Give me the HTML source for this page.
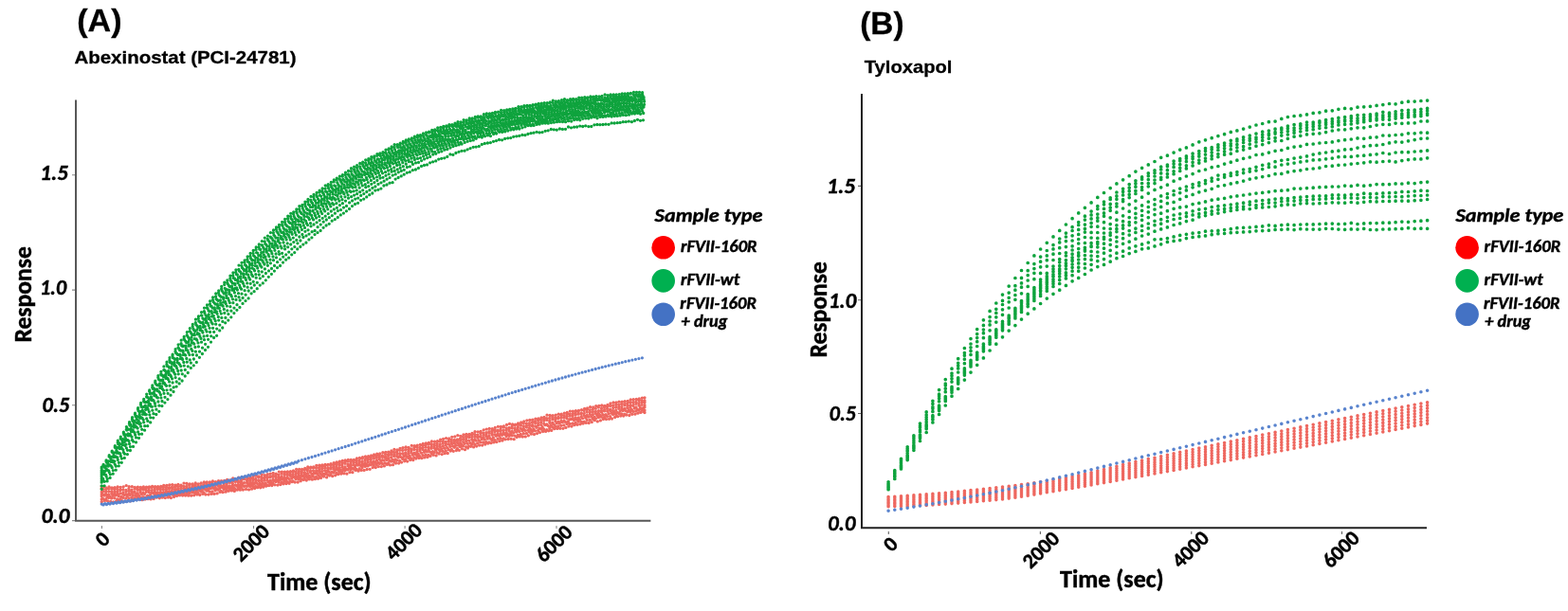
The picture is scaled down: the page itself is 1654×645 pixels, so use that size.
<!DOCTYPE html>
<html><head><meta charset="utf-8"><title>Figure</title>
<style>
html,body{margin:0;padding:0;background:#fff;}
svg{display:block;}
.t{font-family:"Liberation Sans",Arial,sans-serif;font-weight:700;fill:#000;stroke:#000;stroke-width:0.3px;}
.c{font-family:Carlito,Calibri,"Liberation Sans",sans-serif;font-weight:700;fill:#000;stroke:#000;stroke-width:0.45px;}
.ci{font-family:Carlito,Calibri,"Liberation Sans",sans-serif;font-weight:700;font-style:italic;fill:#000;stroke:#000;stroke-width:0.45px;}
</style></head>
<body>
<svg width="1654" height="645" viewBox="0 0 1654 645">
<rect width="1654" height="645" fill="#fff"/>
<g fill="none">
<path d="M80 105.5V550.8M79 549.8H686.4" stroke="#575757" stroke-width="2"/>
<path d="M76 184.7H79M76 306.1H79M76 427.8H79M76 549.6H79M107.4 555V558M267.5 555V558M427.1 555V558M587 555V558" stroke="#888" stroke-width="1.1"/>
<path d="M909 99V558.3M908 557.3H1505" stroke="#222" stroke-width="2"/>
<path d="M905 196.4H908M905 316.7H908M905 436.5H908M937.3 561V564M1097.4 561V564M1256.8 561V564M1415.5 561V564" stroke="#666" stroke-width="1.1"/>
</g>
<circle cx="699.7" cy="261.3" r="12.3" fill="#FF0000"/>
<circle cx="699.7" cy="296.4" r="12.3" fill="#00B050"/>
<circle cx="699.7" cy="331.8" r="12.3" fill="#4472C4"/>
<circle cx="1547.6" cy="261.3" r="12.3" fill="#FF0000"/>
<circle cx="1547.6" cy="296.4" r="12.3" fill="#00B050"/>
<circle cx="1547.6" cy="331.8" r="12.3" fill="#4472C4"/>
<path d="M107.2 513.6h0M108.9 513.8h0M111.9 514.9h0M115 513.9h0M118 514.8h0M121 514.6h0M124.1 513.9h0M127.1 514.3h0M130.2 513.8h0M133.2 512.6h0M136.2 513.7h0M139.3 513.7h0M142.3 514.4h0M145.4 514.2h0M148.4 514.3h0M151.4 514h0M154.5 514.1h0M157.5 513.8h0M160.6 513.4h0M163.6 513.7h0M166.6 513.7h0M169.7 513.5h0M172.7 512.5h0M175.8 512.5h0M178.8 511.8h0M181.8 511.6h0M184.9 512.1h0M187.9 511.4h0M191 512.2h0M194 510.1h0M197 510.4h0M200.1 510.9h0M203.1 511h0M206.2 510h0M209.2 510.8h0M212.2 510h0M215.3 509h0M218.3 509h0M221.4 509h0M224.4 507.9h0M227.4 508.6h0M230.5 507.6h0M233.5 507.6h0M236.6 507.4h0M239.6 506.4h0M242.6 506.8h0M245.7 505h0M248.7 505.8h0M251.8 504.1h0M254.8 505.2h0M257.8 504h0M260.9 504.5h0M263.9 504.1h0M267 503h0M270 502.3h0M273 502.8h0M276.1 501.1h0M279.1 501.6h0M282.2 500.7h0M285.2 500.1h0M288.2 499.5h0M291.3 500.2h0M294.3 498.1h0M297.4 498.1h0M300.4 498.1h0M303.4 497.8h0M306.5 497.7h0M309.5 497h0M312.6 495.5h0M315.6 495.4h0M318.6 495.3h0M321.7 494.4h0M324.7 492.9h0M327.8 493.2h0M330.8 492.8h0M333.8 491.3h0M336.9 491.2h0M339.9 490.8h0M343 490.5h0M346 490.4h0M349 489.7h0M352.1 488.7h0M355.1 488h0M358.2 487.1h0M361.2 486.4h0M364.2 486h0M367.3 485.4h0M370.3 485.4h0M373.4 485.3h0M376.4 483.9h0M379.4 483.5h0M382.5 482.7h0M385.5 481.9h0M388.6 481.7h0M391.6 481h0M394.6 479.9h0M397.7 479.2h0M400.7 478.9h0M403.8 477.7h0M406.8 477.4h0M409.8 477.1h0M412.9 475.9h0M415.9 474.4h0M419 475h0M422 473.4h0M425 472.6h0M428.1 471.9h0M431.1 472.4h0M434.2 470.3h0M437.2 470.6h0M440.2 470.1h0M443.3 469.4h0M446.3 468.3h0M449.4 467.9h0M452.4 467.3h0M455.4 465.9h0M458.5 466.2h0M461.5 465.7h0M464.6 464.1h0M467.6 463.5h0M470.6 462.6h0M473.7 463h0M476.7 461.3h0M479.8 460.9h0M482.8 459.6h0M485.8 460.3h0M488.9 458.9h0M491.9 458.5h0M495 458.4h0M498 457.3h0M501 455.7h0M504.1 455.8h0M507.1 455.3h0M510.2 453.8h0M513.2 453.1h0M516.2 452.4h0M519.3 452.6h0M522.3 451.5h0M525.4 450.3h0M528.4 450.5h0M531.4 449.8h0M534.5 448.4h0M537.5 447.4h0M540.6 448h0M543.6 448.1h0M546.6 446.8h0M549.7 445.9h0M552.7 444.9h0M555.8 443.8h0M558.8 443.5h0M561.8 443.1h0M564.9 442.1h0M567.9 442h0M571 440.9h0M574 440.5h0M577 438.2h0M580.1 438.5h0M583.1 438.7h0M586.2 438.1h0M589.2 437.2h0M592.2 437.2h0M595.3 436.1h0M598.3 435.5h0M601.4 434.1h0M604.4 434.1h0M607.4 433.6h0M610.5 433.3h0M613.5 432.6h0M616.6 431.5h0M619.6 430.9h0M622.6 429.7h0M625.7 430h0M628.7 428.6h0M631.8 428.4h0M634.8 427.9h0M637.8 428.3h0M640.9 427.4h0M643.9 425.8h0M647 425h0M650 425h0M653 424.2h0M656.1 424.2h0M659.1 423.7h0M662.2 423.3h0M665.2 421.9h0M668.2 421.7h0M671.3 421.5h0M674.3 421h0M677.4 420.1h0M680 419.8h0M107.2 515.7h0M108.5 516.4h0M111.6 516.6h0M114.6 515.9h0M117.7 516.1h0M120.7 516.6h0M123.7 516.3h0M126.8 517h0M129.8 516.8h0M132.9 517.5h0M135.9 515.8h0M138.9 517.2h0M142 515.9h0M145 516.5h0M148.1 516.5h0M151.1 516h0M154.1 515.6h0M157.2 515.3h0M160.2 514.6h0M163.3 515.1h0M166.3 514.7h0M169.3 515.3h0M172.4 514.4h0M175.4 514.5h0M178.5 514.6h0M181.5 514.2h0M184.5 514h0M187.6 513.6h0M190.6 513.3h0M193.7 513.5h0M196.7 513.4h0M199.7 512.4h0M202.8 513.3h0M205.8 512.5h0M208.9 511.2h0M211.9 513h0M214.9 511.7h0M218 510.7h0M221 511.5h0M224.1 509.1h0M227.1 511.3h0M230.1 509h0M233.2 508.6h0M236.2 508.6h0M239.3 508.8h0M242.3 508.1h0M245.3 508.4h0M248.4 507.2h0M251.4 507.7h0M254.5 506.9h0M257.5 505.9h0M260.5 506.5h0M263.6 505.7h0M266.6 505h0M269.7 505.3h0M272.7 503.7h0M275.7 503.6h0M278.8 504.1h0M281.8 502.9h0M284.9 502.8h0M287.9 502.2h0M290.9 501.4h0M294 501.3h0M297 500h0M300.1 500.3h0M303.1 499h0M306.1 499h0M309.2 498h0M312.2 498.2h0M315.3 497.6h0M318.3 497.4h0M321.3 496.1h0M324.4 495.3h0M327.4 494.2h0M330.5 494.1h0M333.5 494h0M336.5 493.7h0M339.6 492.8h0M342.6 492.5h0M345.7 491.2h0M348.7 490.8h0M351.7 491.1h0M354.8 490.5h0M357.8 488.9h0M360.9 488.8h0M363.9 488.5h0M366.9 487.2h0M370 487.3h0M373 486.7h0M376.1 486.1h0M379.1 486.2h0M382.1 484.2h0M385.2 484.6h0M388.2 483.7h0M391.3 483.1h0M394.3 481.8h0M397.3 481.5h0M400.4 480.9h0M403.4 481h0M406.5 479.6h0M409.5 479.7h0M412.5 478.1h0M415.6 477.5h0M418.6 477h0M421.7 475.3h0M424.7 475.4h0M427.7 474.7h0M430.8 474.3h0M433.8 473.8h0M436.9 472.5h0M439.9 471.8h0M442.9 472.3h0M446 470.5h0M449 470.1h0M452.1 469.2h0M455.1 468.8h0M458.1 468.9h0M461.2 468.2h0M464.2 466.1h0M467.3 466.2h0M470.3 466.3h0M473.3 464.7h0M476.4 464.4h0M479.4 464.5h0M482.5 464h0M485.5 463h0M488.5 461.4h0M491.6 460.9h0M494.6 460.3h0M497.7 459.3h0M500.7 458.5h0M503.7 459.1h0M506.8 457.6h0M509.8 457.1h0M512.9 456.7h0M515.9 455.7h0M518.9 454.8h0M522 454.2h0M525 454.1h0M528.1 452.9h0M531.1 451h0M534.1 451.8h0M537.2 451.5h0M540.2 449.9h0M543.3 449h0M546.3 448.4h0M549.3 448.5h0M552.4 446.8h0M555.4 447.1h0M558.5 446.6h0M561.5 445.7h0M564.5 444.8h0M567.6 443.7h0M570.6 443.1h0M573.7 442.8h0M576.7 441.7h0M579.7 441.4h0M582.8 440.4h0M585.8 440.9h0M588.9 440.3h0M591.9 438.5h0M594.9 439h0M598 437.8h0M601 437.1h0M604.1 436.7h0M607.1 436h0M610.1 434.5h0M613.2 435.8h0M616.2 433.6h0M619.3 432.3h0M622.3 432.8h0M625.3 432.2h0M628.4 431.3h0M631.4 430.1h0M634.5 431h0M637.5 429.8h0M640.5 429.4h0M643.6 428.5h0M646.6 428.1h0M649.7 427.3h0M652.7 427.3h0M655.7 426.5h0M658.8 426.3h0M661.8 425.8h0M664.9 425h0M667.9 424.5h0M670.9 424.4h0M674 422.6h0M677 422.9h0M680 423h0M107.2 519.3h0M108.6 518.7h0M111.6 519h0M114.7 518.9h0M117.7 518.9h0M120.8 519.2h0M123.8 518.9h0M126.8 517.8h0M129.9 519.9h0M132.9 518.7h0M136 518.4h0M139 519h0M142 519.1h0M145.1 517.3h0M148.1 518.4h0M151.2 517h0M154.2 517.6h0M157.2 517.7h0M160.3 517.3h0M163.3 517.1h0M166.4 516.6h0M169.4 516.8h0M172.4 516.8h0M175.5 516.5h0M178.5 515.7h0M181.6 515.8h0M184.6 516.4h0M187.6 516h0M190.7 515.3h0M193.7 515.5h0M196.8 515.1h0M199.8 515.2h0M202.8 514.6h0M205.9 514h0M208.9 513.4h0M212 513.6h0M215 512.3h0M218 513h0M221.1 511.1h0M224.1 511.9h0M227.2 511.8h0M230.2 512h0M233.2 512.7h0M236.3 511.1h0M239.3 510.6h0M242.4 509.4h0M245.4 510.6h0M248.4 508.6h0M251.5 509.3h0M254.5 508.4h0M257.6 509.6h0M260.6 507.9h0M263.6 507.7h0M266.7 506.8h0M269.7 506.6h0M272.8 506.8h0M275.8 505.3h0M278.8 505h0M281.9 504.6h0M284.9 503.9h0M288 503.4h0M291 503.5h0M294 503.7h0M297.1 503.2h0M300.1 501.4h0M303.2 501.2h0M306.2 501h0M309.2 500.7h0M312.3 500h0M315.3 499.5h0M318.4 499.1h0M321.4 498.8h0M324.4 496.8h0M327.5 497.2h0M330.5 497.1h0M333.6 496.9h0M336.6 496h0M339.6 494.8h0M342.7 494.2h0M345.7 494.1h0M348.8 493.4h0M351.8 493h0M354.8 492.8h0M357.9 491h0M360.9 490.9h0M364 489.3h0M367 490.3h0M370 489.4h0M373.1 488.3h0M376.1 488.2h0M379.2 488.1h0M382.2 487.3h0M385.2 486.2h0M388.3 485.4h0M391.3 485h0M394.4 483.9h0M397.4 483.2h0M400.4 482.9h0M403.5 482.4h0M406.5 481.9h0M409.6 480.9h0M412.6 480.1h0M415.6 479.9h0M418.7 479h0M421.7 478.7h0M424.8 478.6h0M427.8 477.8h0M430.8 476.3h0M433.9 475.7h0M436.9 474.5h0M440 474.6h0M443 473.6h0M446 472.7h0M449.1 472.2h0M452.1 472.3h0M455.2 471.4h0M458.2 470.6h0M461.2 470.4h0M464.3 469.1h0M467.3 468.1h0M470.4 468.2h0M473.4 466.3h0M476.4 466.7h0M479.5 466h0M482.5 465.4h0M485.6 464.9h0M488.6 463.7h0M491.6 463.2h0M494.7 461.7h0M497.7 461.6h0M500.8 460.9h0M503.8 460.6h0M506.8 460.5h0M509.9 459.2h0M512.9 458.9h0M516 457.3h0M519 457.1h0M522 455.6h0M525.1 455.4h0M528.1 454.7h0M531.2 454.3h0M534.2 453.7h0M537.2 452.8h0M540.3 452h0M543.3 452.1h0M546.4 450.9h0M549.4 449.2h0M552.4 449.8h0M555.5 449.3h0M558.5 448.8h0M561.6 448.5h0M564.6 446.6h0M567.6 446.5h0M570.7 445.7h0M573.7 444.3h0M576.8 443.4h0M579.8 444.4h0M582.8 442.8h0M585.9 442.4h0M588.9 441.8h0M592 441.2h0M595 440.8h0M598 439.4h0M601.1 439.2h0M604.1 438.7h0M607.2 437.7h0M610.2 437.2h0M613.2 436.8h0M616.3 436.3h0M619.3 435h0M622.4 435h0M625.4 434.7h0M628.4 434.5h0M631.5 433.7h0M634.5 433.4h0M637.6 432.3h0M640.6 431.6h0M643.6 432.2h0M646.7 430.6h0M649.7 429.8h0M652.8 429.4h0M655.8 429.4h0M658.8 427.8h0M661.9 428.2h0M664.9 427.9h0M668 427.3h0M671 426.3h0M674 425.3h0M677.1 424.7h0M680 424.7h0M107.2 521.7h0M108.6 521.8h0M111.6 521.5h0M114.6 522.2h0M117.7 521.3h0M120.7 521h0M123.8 521.3h0M126.8 520.9h0M129.8 521.5h0M132.9 521.7h0M135.9 521.2h0M139 520.2h0M142 520.1h0M145 520.7h0M148.1 519.8h0M151.1 520.4h0M154.2 519.3h0M157.2 519.6h0M160.2 519.9h0M163.3 519.1h0M166.3 519.7h0M169.4 519.5h0M172.4 519.6h0M175.4 518.5h0M178.5 518.4h0M181.5 518.2h0M184.6 518.1h0M187.6 516.9h0M190.6 517.6h0M193.7 517.5h0M196.7 516.3h0M199.8 516h0M202.8 516.2h0M205.8 517h0M208.9 516.2h0M211.9 515.3h0M215 515.3h0M218 514.2h0M221 515.3h0M224.1 514h0M227.1 514.3h0M230.2 513.1h0M233.2 513.4h0M236.2 512.5h0M239.3 513h0M242.3 513h0M245.4 512.5h0M248.4 511.8h0M251.4 511.6h0M254.5 510.2h0M257.5 509.7h0M260.6 509.8h0M263.6 510h0M266.6 509.2h0M269.7 509h0M272.7 507.5h0M275.8 507.7h0M278.8 507.1h0M281.8 507.1h0M284.9 507.4h0M287.9 506.4h0M291 506.1h0M294 504.9h0M297 504.5h0M300.1 504.5h0M303.1 503.8h0M306.2 502.3h0M309.2 503h0M312.2 502.5h0M315.3 501.7h0M318.3 501.4h0M321.4 500.7h0M324.4 499.7h0M327.4 498.6h0M330.5 499.8h0M333.5 498.4h0M336.6 497.8h0M339.6 497.3h0M342.6 496.8h0M345.7 496.3h0M348.7 495.1h0M351.8 495.2h0M354.8 494.5h0M357.8 493.8h0M360.9 493.2h0M363.9 492.8h0M367 491.6h0M370 491.5h0M373 490.8h0M376.1 490.3h0M379.1 490.2h0M382.2 489.5h0M385.2 489h0M388.2 487.7h0M391.3 487.6h0M394.3 487.1h0M397.4 485.9h0M400.4 485.1h0M403.4 485.6h0M406.5 483.3h0M409.5 483.4h0M412.6 482.9h0M415.6 481.6h0M418.6 481.5h0M421.7 481.2h0M424.7 479.2h0M427.8 480.1h0M430.8 479h0M433.8 477.9h0M436.9 478.1h0M439.9 477h0M443 476.1h0M446 474.5h0M449 475.4h0M452.1 474.3h0M455.1 473.3h0M458.2 473h0M461.2 472.9h0M464.2 471.5h0M467.3 470.9h0M470.3 470.1h0M473.4 469.1h0M476.4 468.5h0M479.4 468.1h0M482.5 467.5h0M485.5 467.5h0M488.6 466.4h0M491.6 465.5h0M494.6 465.1h0M497.7 464.2h0M500.7 464h0M503.8 462.2h0M506.8 461.2h0M509.8 461.8h0M512.9 460.7h0M515.9 460.4h0M519 459h0M522 458.7h0M525 458.2h0M528.1 457.7h0M531.1 456.8h0M534.2 456.7h0M537.2 455.2h0M540.2 455.3h0M543.3 454h0M546.3 453.5h0M549.4 452.4h0M552.4 452.3h0M555.4 451.1h0M558.5 451.4h0M561.5 450h0M564.6 449.8h0M567.6 448.9h0M570.6 448.3h0M573.7 447.3h0M576.7 448h0M579.8 446.3h0M582.8 446.5h0M585.8 444.6h0M588.9 445.5h0M591.9 444.4h0M595 444.1h0M598 441.8h0M601 442.6h0M604.1 441.3h0M607.1 441h0M610.2 441h0M613.2 439.7h0M616.2 438.6h0M619.3 438.4h0M622.3 437.3h0M625.4 437.3h0M628.4 436.6h0M631.4 436.2h0M634.5 435.2h0M637.5 433.9h0M640.6 434.1h0M643.6 433.6h0M646.6 433.4h0M649.7 432.9h0M652.7 431.3h0M655.8 432h0M658.8 431.3h0M661.8 430.4h0M664.9 430h0M667.9 428.3h0M671 429.9h0M674 428h0M677 427.3h0M680 427.7h0M107.2 523.7h0M110 523h0M113 524.2h0M116.1 524.5h0M119.1 523.2h0M122.1 522.9h0M125.2 523.7h0M128.2 524.5h0M131.3 522.6h0M134.3 523.3h0M137.3 522.5h0M140.4 523h0M143.4 523h0M146.5 522.9h0M149.5 521.8h0M152.5 521.6h0M155.6 523.2h0M158.6 522.4h0M161.7 520.8h0M164.7 521.7h0M167.7 521.9h0M170.8 521h0M173.8 520.9h0M176.9 520.6h0M179.9 520.5h0M182.9 520.2h0M186 520h0M189 519.3h0M192.1 519.7h0M195.1 519.2h0M198.1 518.8h0M201.2 517.9h0M204.2 518.1h0M207.3 518h0M210.3 517.4h0M213.3 517.2h0M216.4 516.6h0M219.4 516.6h0M222.5 515.6h0M225.5 515.5h0M228.5 515.9h0M231.6 515.7h0M234.6 514.7h0M237.7 514.6h0M240.7 514.5h0M243.7 514.8h0M246.8 514.6h0M249.8 513.2h0M252.9 512.6h0M255.9 512.2h0M258.9 512.8h0M262 511.3h0M265 511.6h0M268.1 510.7h0M271.1 510.3h0M274.1 510.5h0M277.2 509.9h0M280.2 510.2h0M283.3 509.2h0M286.3 509.2h0M289.3 507.6h0M292.4 507.3h0M295.4 506.4h0M298.5 506.2h0M301.5 506.2h0M304.5 505.3h0M307.6 505.1h0M310.6 504.1h0M313.7 503.8h0M316.7 503.9h0M319.7 502.9h0M322.8 502.3h0M325.8 502h0M328.9 500.9h0M331.9 499.9h0M334.9 500.4h0M338 499.8h0M341 500.2h0M344.1 498.6h0M347.1 498.2h0M350.1 498.5h0M353.2 496.7h0M356.2 496h0M359.3 496.1h0M362.3 495.3h0M365.3 495h0M368.4 493.6h0M371.4 494.1h0M374.5 492.9h0M377.5 491.2h0M380.5 491.6h0M383.6 490.8h0M386.6 490.4h0M389.7 490.3h0M392.7 489.2h0M395.7 488.3h0M398.8 488.4h0M401.8 487.1h0M404.9 486.1h0M407.9 485.5h0M410.9 486.2h0M414 485.2h0M417 484.9h0M420.1 483h0M423.1 482.6h0M426.1 481.9h0M429.2 482h0M432.2 481.5h0M435.3 480.2h0M438.3 479.6h0M441.3 479.4h0M444.4 478.2h0M447.4 477.3h0M450.5 476.9h0M453.5 476.9h0M456.5 476.7h0M459.6 475.2h0M462.6 474.3h0M465.7 473.8h0M468.7 473.2h0M471.7 472.7h0M474.8 471.4h0M477.8 471.1h0M480.9 470.3h0M483.9 470.2h0M486.9 469.3h0M490 468.3h0M493 468.2h0M496.1 467.7h0M499.1 466.5h0M502.1 465.1h0M505.2 464.9h0M508.2 463.7h0M511.3 463.8h0M514.3 463.2h0M517.3 463h0M520.4 462h0M523.4 460.3h0M526.5 460.2h0M529.5 459.3h0M532.5 458.7h0M535.6 458.4h0M538.6 457.8h0M541.7 457h0M544.7 456.1h0M547.7 455.5h0M550.8 454.8h0M553.8 454.4h0M556.9 454.2h0M559.9 453.3h0M562.9 452.9h0M566 451.3h0M569 452.2h0M572.1 450.6h0M575.1 448.7h0M578.1 449.4h0M581.2 449.2h0M584.2 448h0M587.3 446.7h0M590.3 446.8h0M593.3 445.8h0M596.4 445.4h0M599.4 445h0M602.5 442.7h0M605.5 443.6h0M608.5 443.2h0M611.6 442.6h0M614.6 441.6h0M617.7 441h0M620.7 440.2h0M623.7 439.9h0M626.8 440.1h0M629.8 438.5h0M632.9 438.3h0M635.9 437.7h0M638.9 437.7h0M642 436.7h0M645 436.2h0M648.1 435.3h0M651.1 435.4h0M654.1 434.1h0M657.2 433.6h0M660.2 433.6h0M663.3 432.8h0M666.3 432.4h0M669.3 431h0M672.4 432.1h0M675.4 430.5h0M678.5 430.7h0M680 429.8h0M107.2 526.9h0M108.5 526.5h0M111.6 527h0M114.6 525.5h0M117.6 526h0M120.7 525.8h0M123.7 526.9h0M126.8 526.6h0M129.8 525.4h0M132.8 525.9h0M135.9 525.8h0M138.9 525.4h0M142 526h0M145 524.8h0M148 525h0M151.1 524.6h0M154.1 525h0M157.2 524.2h0M160.2 524.5h0M163.2 523.5h0M166.3 523.2h0M169.3 523h0M172.4 523h0M175.4 522.7h0M178.4 524h0M181.5 522h0M184.5 522.3h0M187.6 521.8h0M190.6 521.7h0M193.6 522h0M196.7 521.4h0M199.7 520.6h0M202.8 519.9h0M205.8 520.7h0M208.8 520.5h0M211.9 519.1h0M214.9 519.9h0M218 518.2h0M221 518.9h0M224 519h0M227.1 517.8h0M230.1 517.1h0M233.2 518.3h0M236.2 516.5h0M239.2 517h0M242.3 515.8h0M245.3 516.4h0M248.4 516.6h0M251.4 515.2h0M254.4 514.6h0M257.5 513.6h0M260.5 513.4h0M263.6 513.5h0M266.6 513.5h0M269.6 513.3h0M272.7 512.7h0M275.7 512.5h0M278.8 511.8h0M281.8 512.5h0M284.8 510.7h0M287.9 510.4h0M290.9 508.6h0M294 509.1h0M297 509.2h0M300 508.2h0M303.1 508.6h0M306.1 507.8h0M309.2 507.9h0M312.2 505.8h0M315.2 505.7h0M318.3 506.1h0M321.3 505h0M324.4 504h0M327.4 503.7h0M330.4 503.2h0M333.5 503.3h0M336.5 502.6h0M339.6 501.7h0M342.6 500.8h0M345.6 501.1h0M348.7 500.7h0M351.7 499h0M354.8 499.5h0M357.8 497.9h0M360.8 497.8h0M363.9 496.9h0M366.9 495.9h0M370 495.8h0M373 495.2h0M376 495.4h0M379.1 494.7h0M382.1 493.5h0M385.2 492.4h0M388.2 491.9h0M391.2 490.8h0M394.3 491.2h0M397.3 490.6h0M400.4 489.6h0M403.4 489.5h0M406.4 488.9h0M409.5 488.8h0M412.5 487.2h0M415.6 487.5h0M418.6 486.1h0M421.6 486.4h0M424.7 484.6h0M427.7 485h0M430.8 483.4h0M433.8 484h0M436.8 482.8h0M439.9 481.3h0M442.9 481.7h0M446 480.6h0M449 480.2h0M452 480.4h0M455.1 478.5h0M458.1 477.8h0M461.2 477.9h0M464.2 476.4h0M467.2 476.4h0M470.3 475.9h0M473.3 474.7h0M476.4 474.4h0M479.4 472.3h0M482.4 473.5h0M485.5 471.7h0M488.5 470.9h0M491.6 471.7h0M494.6 470.9h0M497.6 469.2h0M500.7 469h0M503.7 467.9h0M506.8 466.9h0M509.8 467h0M512.8 466.6h0M515.9 466.8h0M518.9 464.7h0M522 464.6h0M525 463.3h0M528 462.7h0M531.1 462.8h0M534.1 460.6h0M537.2 460.3h0M540.2 459.8h0M543.2 460.1h0M546.3 459.1h0M549.3 458.5h0M552.4 457.7h0M555.4 457.4h0M558.4 456h0M561.5 455.5h0M564.5 454.8h0M567.6 454.5h0M570.6 453h0M573.6 452.9h0M576.7 453.7h0M579.7 452h0M582.8 451.1h0M585.8 450h0M588.8 450h0M591.9 449.3h0M594.9 448.9h0M598 447.6h0M601 447.5h0M604 447h0M607.1 446.5h0M610.1 445.2h0M613.2 445.1h0M616.2 445.1h0M619.2 443.4h0M622.3 443.4h0M625.3 442.3h0M628.4 441.7h0M631.4 440.7h0M634.4 440.2h0M637.5 440.4h0M640.5 439.6h0M643.6 439.6h0M646.6 437.5h0M649.6 437.6h0M652.7 436.5h0M655.7 436.8h0M658.8 437.1h0M661.8 434.8h0M664.8 435h0M667.9 434.4h0M670.9 433.9h0M674 433.1h0M677 432.6h0M680 433.1h0M107.2 529.7h0M107.5 529.6h0M110.5 528.5h0M113.5 528.8h0M116.6 529.3h0M119.6 529.9h0M122.7 528.8h0M125.7 528.5h0M128.7 528.7h0M131.8 529.1h0M134.8 528.7h0M137.9 528.8h0M140.9 527.9h0M143.9 527.4h0M147 527.1h0M150 527.7h0M153.1 527h0M156.1 526.7h0M159.1 526.9h0M162.2 526.5h0M165.2 525.2h0M168.3 525.8h0M171.3 525.2h0M174.3 525.6h0M177.4 525.1h0M180.4 525.6h0M183.5 524.5h0M186.5 523.6h0M189.5 522.9h0M192.6 523.1h0M195.6 523.1h0M198.7 523.2h0M201.7 523.2h0M204.7 522.8h0M207.8 522.1h0M210.8 522.5h0M213.9 521.4h0M216.9 522h0M219.9 522.1h0M223 521.4h0M226 521.4h0M229.1 520.9h0M232.1 519.4h0M235.1 519.7h0M238.2 519.2h0M241.2 518.3h0M244.3 517.9h0M247.3 518.4h0M250.3 517.2h0M253.4 517.2h0M256.4 517h0M259.5 516.4h0M262.5 516.9h0M265.5 516.2h0M268.6 515.5h0M271.6 514.7h0M274.7 514.8h0M277.7 514.2h0M280.7 513.2h0M283.8 512.6h0M286.8 512.5h0M289.9 511.8h0M292.9 512.1h0M295.9 511.6h0M299 510.8h0M302 510.6h0M305.1 510.3h0M308.1 508.7h0M311.1 509.1h0M314.2 509h0M317.2 507.8h0M320.3 506.6h0M323.3 507h0M326.3 505.9h0M329.4 506.2h0M332.4 505.7h0M335.5 505.3h0M338.5 504.5h0M341.5 503h0M344.6 503.9h0M347.6 502h0M350.7 502.7h0M353.7 501.8h0M356.7 500.7h0M359.8 500.2h0M362.8 499.8h0M365.9 500.2h0M368.9 498.6h0M371.9 498.7h0M375 496.4h0M378 497.2h0M381.1 496.4h0M384.1 496.4h0M387.1 495.5h0M390.2 495.3h0M393.2 493.6h0M396.3 493.6h0M399.3 492.6h0M402.3 492.6h0M405.4 491.9h0M408.4 490.4h0M411.5 490.9h0M414.5 490.7h0M417.5 489h0M420.6 489.1h0M423.6 488.1h0M426.7 486.8h0M429.7 487.1h0M432.7 485.6h0M435.8 485.7h0M438.8 484h0M441.9 483.5h0M444.9 483.7h0M447.9 482.9h0M451 482.6h0M454 481.4h0M457.1 480.3h0M460.1 480.9h0M463.1 479.1h0M466.2 479.6h0M469.2 478.7h0M472.3 478.5h0M475.3 476h0M478.3 476.3h0M481.4 475.5h0M484.4 475.3h0M487.5 473.8h0M490.5 474.7h0M493.5 473h0M496.6 471.3h0M499.6 471.9h0M502.7 471.1h0M505.7 470.1h0M508.7 470.1h0M511.8 469.1h0M514.8 468h0M517.9 467.7h0M520.9 466.9h0M523.9 466.6h0M527 465.6h0M530 465.1h0M533.1 463.8h0M536.1 463.5h0M539.1 463.3h0M542.2 463.7h0M545.2 461.5h0M548.3 460.9h0M551.3 461h0M554.3 460.9h0M557.4 459.8h0M560.4 458.2h0M563.5 458.5h0M566.5 457.6h0M569.5 456.6h0M572.6 455.5h0M575.6 455.4h0M578.7 454.8h0M581.7 454.4h0M584.7 452.7h0M587.8 452.4h0M590.8 452.3h0M593.9 452.3h0M596.9 451.4h0M599.9 450.1h0M603 450.1h0M606 448.7h0M609.1 448.3h0M612.1 447.8h0M615.1 447h0M618.2 446.4h0M621.2 446.5h0M624.3 445.6h0M627.3 443.7h0M630.3 444.9h0M633.4 443.9h0M636.4 442.6h0M639.5 442.6h0M642.5 442.3h0M645.5 442h0M648.6 440.5h0M651.6 439.7h0M654.7 439h0M657.7 439.1h0M660.7 438h0M663.8 438.5h0M666.8 437.3h0M669.9 437.2h0M672.9 436.2h0M675.9 435.4h0M679 434.7h0M680 435.5h0" stroke="#EE675F" stroke-width="3.3" stroke-linecap="round" fill="none"/>
<path d="M107.2 493.1h0M109.1 490.3h0M112.1 485.8h0M115.2 480.7h0M118.2 476.1h0M121.3 470.7h0M124.3 465.2h0M127.3 461.1h0M130.4 456.2h0M133.4 450.6h0M136.5 445.6h0M139.5 440.7h0M142.5 436.2h0M145.6 430.7h0M148.6 425.4h0M151.7 421.4h0M154.7 416.1h0M157.7 411.9h0M160.8 406.8h0M163.8 402.2h0M166.9 396.7h0M169.9 392.4h0M172.9 386.9h0M176 382.2h0M179 377.7h0M182.1 374.2h0M185.1 368.6h0M188.1 363.8h0M191.2 359.2h0M194.2 355.5h0M197.3 350.6h0M200.3 346.6h0M203.3 342.3h0M206.4 337.2h0M209.4 334h0M212.5 329.6h0M215.5 325.1h0M218.5 321.9h0M221.6 317.8h0M224.6 313.8h0M227.7 310h0M230.7 306.8h0M233.7 302.5h0M236.8 298.2h0M239.8 295.9h0M242.9 291.2h0M245.9 288h0M248.9 284.8h0M252 280.1h0M255 277.3h0M258.1 274.9h0M261.1 270.9h0M264.1 267.4h0M267.2 264.5h0M270.2 260.9h0M273.3 258h0M276.3 254.6h0M279.3 251.1h0M282.4 249.1h0M285.4 245.6h0M288.5 243h0M291.5 239.8h0M294.5 237.5h0M297.6 234.4h0M300.6 231.4h0M303.7 228.1h0M306.7 225.3h0M309.7 223.8h0M312.8 220.9h0M315.8 217.6h0M318.9 216.4h0M321.9 213.1h0M324.9 210.5h0M328 207.4h0M331 205.3h0M334.1 203.5h0M337.1 201.2h0M340.1 198.9h0M343.2 195.8h0M346.2 194.6h0M349.3 192.4h0M352.3 190h0M355.3 188.1h0M358.4 186.1h0M361.4 184.6h0M364.5 182.1h0M367.5 180.4h0M370.5 177.7h0M373.6 176.1h0M376.6 174.6h0M379.7 172.5h0M382.7 171.2h0M385.7 168.8h0M388.8 167.6h0M391.8 165.7h0M394.9 165h0M397.9 162.6h0M400.9 162h0M404 160.6h0M407 158.2h0M410.1 157h0M413.1 155h0M416.1 152.6h0M419.2 152.7h0M422.2 151.2h0M425.3 149.5h0M428.3 148h0M431.3 147h0M434.4 145.8h0M437.4 144.1h0M440.5 143h0M443.5 142.6h0M446.5 141h0M449.6 139.8h0M452.6 139.2h0M455.7 137.5h0M458.7 137h0M461.7 135h0M464.8 134.4h0M467.8 133.4h0M470.9 132.8h0M473.9 131.6h0M476.9 131.6h0M480 130.2h0M483 128.6h0M486.1 128.9h0M489.1 126.6h0M492.1 127h0M495.2 125h0M498.2 124.9h0M501.3 123.3h0M504.3 122.8h0M507.3 122.9h0M510.4 120.7h0M513.4 119.9h0M516.5 119.9h0M519.5 119.3h0M522.5 118.5h0M525.6 118.2h0M528.6 116.5h0M531.7 116.6h0M534.7 115.8h0M537.7 115.5h0M540.8 114.8h0M543.8 114.5h0M546.9 112.6h0M549.9 112.7h0M552.9 111.6h0M556 111.5h0M559 111.3h0M562.1 110.6h0M565.1 110.2h0M568.1 109.4h0M571.2 109.1h0M574.2 108.6h0M577.3 108.6h0M580.3 107.9h0M583.3 106.2h0M586.4 106.9h0M589.4 106.7h0M592.5 105.6h0M595.5 104.7h0M598.5 105.7h0M601.6 104.7h0M604.6 104.5h0M607.7 104.7h0M610.7 103.1h0M613.7 103.1h0M616.8 102.7h0M619.8 102.8h0M622.9 101.9h0M625.9 102.1h0M628.9 101.6h0M632 101.8h0M635 101.5h0M638.1 100h0M641.1 100.6h0M644.1 100h0M647.2 99.9h0M650.2 99.8h0M653.3 99.6h0M656.3 98.8h0M659.3 99h0M662.4 98.7h0M665.4 98.3h0M668.5 97.5h0M671.5 97.5h0M674.5 97.4h0M677.6 97.7h0M107.2 494.2h0M109 491.3h0M112 487h0M115.1 481.9h0M118.1 476.9h0M121.2 472.1h0M124.2 467.2h0M127.2 463h0M130.3 457.1h0M133.3 453.4h0M136.4 447.4h0M139.4 442.6h0M142.4 437.4h0M145.5 432h0M148.5 427.2h0M151.6 423.6h0M154.6 419h0M157.6 412.9h0M160.7 409h0M163.7 403.8h0M166.8 398.6h0M169.8 395.1h0M172.8 390.6h0M175.9 384.7h0M178.9 380.2h0M182 375.7h0M185 371h0M188 366.9h0M191.1 362.7h0M194.1 357.6h0M197.2 353.7h0M200.2 349.7h0M203.2 344.5h0M206.3 340.6h0M209.3 336.3h0M212.4 332.9h0M215.4 328.7h0M218.4 324.9h0M221.5 321h0M224.5 316.6h0M227.6 313.2h0M230.6 308.9h0M233.6 305.1h0M236.7 300.6h0M239.7 298.6h0M242.8 293.9h0M245.8 290.9h0M248.8 287.3h0M251.9 284.5h0M254.9 280.6h0M258 276.7h0M261 273.7h0M264 270.4h0M267.1 267.3h0M270.1 263.4h0M273.2 260.8h0M276.2 258.7h0M279.2 254.9h0M282.3 252.5h0M285.3 250.1h0M288.4 245.8h0M291.4 241.9h0M294.4 239.7h0M297.5 237.4h0M300.5 234.5h0M303.6 230.7h0M306.6 228.5h0M309.6 225.9h0M312.7 223.3h0M315.7 220.6h0M318.8 217.7h0M321.8 215.3h0M324.8 213h0M327.9 211.2h0M330.9 208h0M334 206.3h0M337 203.1h0M340 202h0M343.1 199.2h0M346.1 197h0M349.2 195.5h0M352.2 191.9h0M355.2 189.9h0M358.3 188.8h0M361.3 186.2h0M364.4 184.5h0M367.4 184h0M370.4 180.7h0M373.5 179h0M376.5 177.1h0M379.6 175.8h0M382.6 173.6h0M385.6 171.9h0M388.7 169.5h0M391.7 168.2h0M394.8 166.7h0M397.8 164.3h0M400.8 163.7h0M403.9 162.1h0M406.9 161.2h0M410 158.1h0M413 156.9h0M416 155.5h0M419.1 154.2h0M422.1 153h0M425.2 151.6h0M428.2 150.5h0M431.2 149.2h0M434.3 147.8h0M437.3 145.9h0M440.4 145.1h0M443.4 144.2h0M446.4 143.3h0M449.5 142.2h0M452.5 140h0M455.6 139.4h0M458.6 138.5h0M461.6 137.7h0M464.7 137h0M467.7 135.5h0M470.8 134.1h0M473.8 133.7h0M476.8 132.7h0M479.9 131.8h0M482.9 130.7h0M486 130.6h0M489 129.1h0M492 128.5h0M495.1 126.8h0M498.1 126.8h0M501.2 125.3h0M504.2 124.1h0M507.2 124.2h0M510.3 123.5h0M513.3 122.4h0M516.4 121.7h0M519.4 121.5h0M522.4 120.1h0M525.5 118.6h0M528.5 119h0M531.6 118.3h0M534.6 118.1h0M537.6 116.8h0M540.7 116.9h0M543.7 116.2h0M546.8 114.5h0M549.8 114.9h0M552.8 113.4h0M555.9 112.6h0M558.9 112.7h0M562 112h0M565 110.8h0M568 111.3h0M571.1 111h0M574.1 110.9h0M577.2 109.8h0M580.2 108.6h0M583.2 108.4h0M586.3 108.9h0M589.3 108.4h0M592.4 107.8h0M595.4 107h0M598.4 106.9h0M601.5 106.3h0M604.5 105.9h0M607.6 105.8h0M610.6 105.3h0M613.6 104.9h0M616.7 104.7h0M619.7 104.1h0M622.8 103.1h0M625.8 103.4h0M628.8 103.4h0M631.9 103.9h0M634.9 102.6h0M638 103.5h0M641 102.9h0M644 101.5h0M647.1 101.3h0M650.1 101.5h0M653.2 102h0M656.2 101.1h0M659.2 101h0M662.3 100.1h0M665.3 99h0M668.4 99.8h0M671.4 100h0M674.4 100h0M677.5 99.2h0M107.2 496.6h0M109.5 492.3h0M112.6 488.2h0M115.6 482.3h0M118.6 477.6h0M121.7 472.8h0M124.7 468.7h0M127.8 463.4h0M130.8 458.8h0M133.8 454h0M136.9 449h0M139.9 444.5h0M143 439.7h0M146 433.7h0M149 429.3h0M152.1 424.2h0M155.1 419h0M158.2 415.5h0M161.2 410.3h0M164.2 405.1h0M167.3 400.3h0M170.3 396h0M173.4 390.6h0M176.4 386.4h0M179.4 382.5h0M182.5 377.7h0M185.5 372.4h0M188.6 368h0M191.6 364.7h0M194.6 358.8h0M197.7 354.8h0M200.7 350.2h0M203.8 346.9h0M206.8 342.7h0M209.8 339h0M212.9 333.2h0M215.9 330.5h0M219 325.7h0M222 322.9h0M225 318.6h0M228.1 315.7h0M231.1 311.3h0M234.2 306.9h0M237.2 304.3h0M240.2 299.5h0M243.3 296.2h0M246.3 293.4h0M249.4 289.6h0M252.4 286.1h0M255.4 282.5h0M258.5 279.4h0M261.5 276.2h0M264.6 272.7h0M267.6 269.8h0M270.6 266.7h0M273.7 262.9h0M276.7 259.3h0M279.8 257.4h0M282.8 253.6h0M285.8 251h0M288.9 248.2h0M291.9 244.3h0M295 242.1h0M298 238.3h0M301 236.6h0M304.1 233.3h0M307.1 230.8h0M310.2 228.4h0M313.2 225.1h0M316.2 222.9h0M319.3 220h0M322.3 217.8h0M325.4 215.8h0M328.4 212.9h0M331.4 210.5h0M334.5 207.7h0M337.5 206.3h0M340.6 203.6h0M343.6 202.2h0M346.6 198.8h0M349.7 197.5h0M352.7 195.8h0M355.8 192.8h0M358.8 190.2h0M361.8 189.5h0M364.9 187.3h0M367.9 185.2h0M371 183.5h0M374 180.9h0M377 179.6h0M380.1 177.7h0M383.1 175.3h0M386.2 174.2h0M389.2 171.9h0M392.2 170.9h0M395.3 169.3h0M398.3 168h0M401.4 164.6h0M404.4 164h0M407.4 162.2h0M410.5 160.8h0M413.5 159.2h0M416.6 157.8h0M419.6 155.5h0M422.6 155.5h0M425.7 154.4h0M428.7 152.8h0M431.8 151.6h0M434.8 149.3h0M437.8 148.1h0M440.9 147.7h0M443.9 146.7h0M447 145h0M450 143h0M453 143.9h0M456.1 141.2h0M459.1 140.9h0M462.2 138.8h0M465.2 138.8h0M468.2 137.4h0M471.3 137h0M474.3 135.8h0M477.4 133.7h0M480.4 133h0M483.4 132.7h0M486.5 132h0M489.5 131.7h0M492.6 130.1h0M495.6 129h0M498.6 128.2h0M501.7 127.4h0M504.7 127.1h0M507.8 125.8h0M510.8 125h0M513.8 123.6h0M516.9 122.5h0M519.9 122.8h0M523 122.4h0M526 121.3h0M529 120.9h0M532.1 120.3h0M535.1 119.3h0M538.2 119.1h0M541.2 117.7h0M544.2 117.4h0M547.3 116.7h0M550.3 116.3h0M553.4 116h0M556.4 115.5h0M559.4 114.6h0M562.5 114.3h0M565.5 113.4h0M568.6 113h0M571.6 113.1h0M574.6 112h0M577.7 112.2h0M580.7 111.4h0M583.8 110.8h0M586.8 111.2h0M589.8 109.7h0M592.9 109.3h0M595.9 109h0M599 108.8h0M602 108.4h0M605 108.3h0M608.1 107.6h0M611.1 107.4h0M614.2 106.7h0M617.2 107h0M620.2 106h0M623.3 105.7h0M626.3 105.5h0M629.4 105.4h0M632.4 104.6h0M635.4 105.4h0M638.5 104.1h0M641.5 103.9h0M644.6 103.6h0M647.6 103.3h0M650.6 103.5h0M653.7 103.1h0M656.7 102.4h0M659.8 102.2h0M662.8 102h0M665.8 102.6h0M668.9 101.4h0M671.9 100.8h0M675 100.7h0M678 100.8h0M107.2 496.9h0M107.5 496.9h0M110.6 493.4h0M113.6 487.2h0M116.7 483.4h0M119.7 478.6h0M122.7 473.5h0M125.8 467.8h0M128.8 463.8h0M131.9 458.6h0M134.9 453h0M137.9 448.2h0M141 444.2h0M144 439.4h0M147.1 435h0M150.1 429.9h0M153.1 424.5h0M156.2 419.7h0M159.2 415.1h0M162.3 410h0M165.3 406.2h0M168.3 401.2h0M171.4 396.1h0M174.4 391.6h0M177.5 386.8h0M180.5 382.5h0M183.5 378.3h0M186.6 373.5h0M189.6 369.7h0M192.7 365.7h0M195.7 360.2h0M198.7 356.3h0M201.8 351.9h0M204.8 348.7h0M207.9 344h0M210.9 340h0M213.9 336.1h0M217 332.8h0M220 327.9h0M223.1 323.4h0M226.1 319.8h0M229.1 316.5h0M232.2 312.4h0M235.2 308.3h0M238.3 306.4h0M241.3 301.4h0M244.3 297.5h0M247.4 293.9h0M250.4 290h0M253.5 286.8h0M256.5 283.8h0M259.5 280.4h0M262.6 276.9h0M265.6 274.3h0M268.7 270.8h0M271.7 267.1h0M274.7 263.5h0M277.8 261.4h0M280.8 258.3h0M283.9 255.1h0M286.9 251.6h0M289.9 249.3h0M293 245.7h0M296 244h0M299.1 240.8h0M302.1 238h0M305.1 234.8h0M308.2 231.9h0M311.2 230.5h0M314.3 227.6h0M317.3 224.4h0M320.3 222.3h0M323.4 220.2h0M326.4 216.5h0M329.5 214.4h0M332.5 212h0M335.5 210.1h0M338.6 207.1h0M341.6 205.5h0M344.7 202.6h0M347.7 201.4h0M350.7 199.2h0M353.8 196.6h0M356.8 194.9h0M359.9 192.2h0M362.9 190.4h0M365.9 189h0M369 186.6h0M372 184.9h0M375.1 182.4h0M378.1 181.3h0M381.1 179.3h0M384.2 176.7h0M387.2 174.5h0M390.3 172.9h0M393.3 172.1h0M396.3 170.4h0M399.4 168.1h0M402.4 167.2h0M405.5 166.1h0M408.5 164h0M411.5 162.3h0M414.6 161.4h0M417.6 160.3h0M420.7 158.8h0M423.7 156.3h0M426.7 155.7h0M429.8 154h0M432.8 152.5h0M435.9 151h0M438.9 150.3h0M441.9 148.6h0M445 148.1h0M448 146.7h0M451.1 145.8h0M454.1 143.6h0M457.1 143.1h0M460.2 142.4h0M463.2 141.1h0M466.3 140h0M469.3 138.6h0M472.3 138.7h0M475.4 137.4h0M478.4 136.2h0M481.5 133.8h0M484.5 133.7h0M487.5 133.3h0M490.6 132h0M493.6 130.5h0M496.7 130.7h0M499.7 130h0M502.7 128.4h0M505.8 127.9h0M508.8 127h0M511.9 126.8h0M514.9 124.8h0M517.9 124.2h0M521 124h0M524 123.2h0M527.1 123.9h0M530.1 121.9h0M533.1 121.6h0M536.2 120.6h0M539.2 119.9h0M542.3 119.8h0M545.3 119.8h0M548.3 118.2h0M551.4 118.2h0M554.4 117.4h0M557.5 117h0M560.5 116.3h0M563.5 116.7h0M566.6 114.5h0M569.6 114.5h0M572.7 113.6h0M575.7 112.7h0M578.7 113.2h0M581.8 113.6h0M584.8 112.7h0M587.9 112.4h0M590.9 111.7h0M593.9 111h0M597 111.6h0M600 110.1h0M603.1 110.6h0M606.1 109.4h0M609.1 109.2h0M612.2 109h0M615.2 108.5h0M618.3 108.4h0M621.3 108.1h0M624.3 108.3h0M627.4 107.2h0M630.4 106h0M633.5 105.7h0M636.5 105.7h0M639.5 105.7h0M642.6 106.1h0M645.6 104.8h0M648.7 105.2h0M651.7 105h0M654.7 104.8h0M657.8 104.3h0M660.8 104.3h0M663.9 103.9h0M666.9 104.1h0M669.9 103.5h0M673 102h0M676 102.9h0M679.1 102.7h0M107.2 498.3h0M108.5 497.2h0M111.6 492h0M114.6 486.8h0M117.7 482.4h0M120.7 477.8h0M123.7 472.4h0M126.8 468.8h0M129.8 463.6h0M132.9 459.1h0M135.9 453.3h0M138.9 450.1h0M142 444.7h0M145 439.8h0M148.1 434.4h0M151.1 429.6h0M154.1 424.4h0M157.2 421.1h0M160.2 415.3h0M163.3 411.2h0M166.3 406.7h0M169.3 401.5h0M172.4 397.6h0M175.4 393.6h0M178.5 388.2h0M181.5 384.2h0M184.5 379.3h0M187.6 374.4h0M190.6 370h0M193.7 365.1h0M196.7 361.7h0M199.7 358.1h0M202.8 353.5h0M205.8 349.5h0M208.9 345.6h0M211.9 340.7h0M214.9 337.2h0M218 333.9h0M221 328.6h0M224.1 325.1h0M227.1 321h0M230.1 317.4h0M233.2 313.3h0M236.2 309.9h0M239.3 305.7h0M242.3 302.5h0M245.3 298.9h0M248.4 295.4h0M251.4 292.8h0M254.5 288.7h0M257.5 285.4h0M260.5 281.8h0M263.6 279.3h0M266.6 274.6h0M269.7 272.1h0M272.7 269.6h0M275.7 266.7h0M278.8 262.9h0M281.8 259.8h0M284.9 257.1h0M287.9 253.7h0M290.9 251.1h0M294 247.6h0M297 245.4h0M300.1 242.2h0M303.1 238.9h0M306.1 235.4h0M309.2 234.5h0M312.2 231.5h0M315.3 229.1h0M318.3 225.7h0M321.3 224.1h0M324.4 221.3h0M327.4 218.6h0M330.5 216.7h0M333.5 214.3h0M336.5 211.7h0M339.6 210.2h0M342.6 207.7h0M345.7 204.9h0M348.7 202.5h0M351.7 200.5h0M354.8 199.2h0M357.8 196.4h0M360.9 193.8h0M363.9 191.9h0M366.9 190.2h0M370 188.7h0M373 186h0M376.1 184.7h0M379.1 183.1h0M382.1 181.1h0M385.2 178.2h0M388.2 177.1h0M391.3 174.9h0M394.3 173.9h0M397.3 171.6h0M400.4 170.7h0M403.4 168.8h0M406.5 165.9h0M409.5 165.2h0M412.5 164.3h0M415.6 162.6h0M418.6 160.9h0M421.7 159h0M424.7 158.5h0M427.7 157.7h0M430.8 155.6h0M433.8 154.2h0M436.9 152.9h0M439.9 151h0M442.9 150.3h0M446 148.8h0M449 148.6h0M452.1 146.5h0M455.1 144.8h0M458.1 144.3h0M461.2 143.5h0M464.2 142.5h0M467.3 140.7h0M470.3 141h0M473.3 139.6h0M476.4 138.3h0M479.4 137.2h0M482.5 136.9h0M485.5 135.6h0M488.5 135h0M491.6 133.9h0M494.6 133.2h0M497.7 132.8h0M500.7 131.4h0M503.7 130.1h0M506.8 130.2h0M509.8 129h0M512.9 127.8h0M515.9 127.9h0M518.9 126.5h0M522 126.4h0M525 124.6h0M528.1 123.3h0M531.1 122.8h0M534.1 123.2h0M537.2 122.1h0M540.2 121.8h0M543.3 121.1h0M546.3 119.8h0M549.3 120.6h0M552.4 118.9h0M555.4 118.9h0M558.5 117.6h0M561.5 117.7h0M564.5 117.6h0M567.6 116.6h0M570.6 115.9h0M573.7 115.7h0M576.7 115h0M579.7 115.1h0M582.8 115.4h0M585.8 113.5h0M588.9 113.2h0M591.9 113h0M594.9 112.7h0M598 111.8h0M601 112.2h0M604.1 111.9h0M607.1 111.3h0M610.1 110.3h0M613.2 111.2h0M616.2 109.6h0M619.3 110.2h0M622.3 110.1h0M625.3 108.7h0M628.4 109h0M631.4 109.3h0M634.5 108.6h0M637.5 107.6h0M640.5 107.2h0M643.6 107.7h0M646.6 107h0M649.7 106.6h0M652.7 107h0M655.7 106.2h0M658.8 106.1h0M661.8 106.1h0M664.9 105.8h0M667.9 105.3h0M670.9 105h0M674 105.1h0M677 104.7h0M107.2 499.8h0M107.7 498.7h0M110.8 493.9h0M113.8 489.6h0M116.8 484.1h0M119.9 481h0M122.9 475.5h0M126 471.4h0M129 465.6h0M132 460.9h0M135.1 457.9h0M138.1 452.7h0M141.2 447.1h0M144.2 442.2h0M147.2 437.5h0M150.3 433.1h0M153.3 428.1h0M156.4 423.3h0M159.4 419h0M162.4 413.8h0M165.5 410.8h0M168.5 404.8h0M171.6 401h0M174.6 395.5h0M177.6 391.6h0M180.7 387.4h0M183.7 382.3h0M186.8 378.5h0M189.8 374.2h0M192.8 370.2h0M195.9 365.1h0M198.9 360.6h0M202 356.2h0M205 352.7h0M208 348h0M211.1 344.5h0M214.1 340.5h0M217.2 336.2h0M220.2 332h0M223.2 328.7h0M226.3 324.8h0M229.3 320.9h0M232.4 317h0M235.4 313.8h0M238.4 309.2h0M241.5 306.2h0M244.5 302.2h0M247.6 299.3h0M250.6 295.3h0M253.6 291.8h0M256.7 288.8h0M259.7 284.3h0M262.8 281.8h0M265.8 277.8h0M268.8 275h0M271.9 272.6h0M274.9 269.3h0M278 265.8h0M281 262.9h0M284 259.9h0M287.1 257.1h0M290.1 254.9h0M293.2 251.2h0M296.2 249.3h0M299.2 245.2h0M302.3 242.9h0M305.3 240.2h0M308.4 237.2h0M311.4 234.3h0M314.4 232.5h0M317.5 230h0M320.5 227.1h0M323.6 225.1h0M326.6 222.1h0M329.6 218.4h0M332.7 217.3h0M335.7 214.2h0M338.8 212.8h0M341.8 209.8h0M344.8 207.8h0M347.9 205.5h0M350.9 203h0M354 200.3h0M357 199h0M360 196.9h0M363.1 195.4h0M366.1 192.7h0M369.2 191.1h0M372.2 188.6h0M375.2 187.2h0M378.3 184.4h0M381.3 184.4h0M384.4 181.7h0M387.4 179.4h0M390.4 178.2h0M393.5 176.7h0M396.5 174.7h0M399.6 173.6h0M402.6 171.2h0M405.6 168.5h0M408.7 167.5h0M411.7 167h0M414.8 165.4h0M417.8 163.7h0M420.8 161.5h0M423.9 161h0M426.9 159.5h0M430 157.4h0M433 156.1h0M436 155.4h0M439.1 154.5h0M442.1 153.5h0M445.2 151.8h0M448.2 151.4h0M451.2 148.8h0M454.3 148.3h0M457.3 146.7h0M460.4 144.9h0M463.4 144.2h0M466.4 144.3h0M469.5 142.3h0M472.5 141.1h0M475.6 141.1h0M478.6 140.2h0M481.6 138.9h0M484.7 138.7h0M487.7 136.3h0M490.8 137.3h0M493.8 135.7h0M496.8 134.5h0M499.9 133.6h0M502.9 132.6h0M506 131.7h0M509 131.1h0M512 129.7h0M515.1 130.5h0M518.1 128.7h0M521.2 128.3h0M524.2 127.1h0M527.2 126.4h0M530.3 126.2h0M533.3 125.4h0M536.4 124.1h0M539.4 123.6h0M542.4 123.5h0M545.5 121.6h0M548.5 120.8h0M551.6 122.1h0M554.6 120.7h0M557.6 119h0M560.7 119.3h0M563.7 119.1h0M566.8 118.8h0M569.8 118.4h0M572.8 117.8h0M575.9 117.5h0M578.9 116.4h0M582 116.5h0M585 116.1h0M588 116h0M591.1 115.1h0M594.1 115.1h0M597.2 114.3h0M600.2 113.4h0M603.2 113.3h0M606.3 112.9h0M609.3 112.6h0M612.4 112.4h0M615.4 112.2h0M618.4 112h0M621.5 111.1h0M624.5 111.7h0M627.6 110.2h0M630.6 110.6h0M633.6 110.7h0M636.7 110.3h0M639.7 110.1h0M642.8 109.4h0M645.8 109.5h0M648.8 108.3h0M651.9 108.9h0M654.9 109.4h0M658 108.3h0M661 108.7h0M664 107.4h0M667.1 106.6h0M670.1 106.6h0M673.2 107.3h0M676.2 106.7h0M679.2 105.2h0M107.2 501.2h0M108.1 499.4h0M111.1 494.1h0M114.1 490.1h0M117.2 486.1h0M120.2 481.4h0M123.3 476.6h0M126.3 472.6h0M129.3 468.1h0M132.4 462.9h0M135.4 458.6h0M138.5 453.4h0M141.5 448.6h0M144.5 442.8h0M147.6 439.6h0M150.6 434.5h0M153.7 429.8h0M156.7 424.9h0M159.7 419.9h0M162.8 416.1h0M165.8 411.7h0M168.9 407.5h0M171.9 402.6h0M174.9 397.4h0M178 393.2h0M181 389.2h0M184.1 384.5h0M187.1 379.9h0M190.1 375.4h0M193.2 371.6h0M196.2 367.2h0M199.3 363.7h0M202.3 359.3h0M205.3 353.8h0M208.4 351.6h0M211.4 346.7h0M214.5 342.4h0M217.5 338.7h0M220.5 334.9h0M223.6 330.6h0M226.6 326.7h0M229.7 322.9h0M232.7 320h0M235.7 315.5h0M238.8 312.1h0M241.8 308.4h0M244.9 304.4h0M247.9 300.7h0M250.9 297.1h0M254 294.3h0M257 290.2h0M260.1 286.7h0M263.1 283.5h0M266.1 280.1h0M269.2 277.6h0M272.2 274.4h0M275.3 270.8h0M278.3 268.8h0M281.3 265h0M284.4 262.3h0M287.4 259.2h0M290.5 257h0M293.5 253.6h0M296.5 250.3h0M299.6 247.1h0M302.6 244.2h0M305.7 242h0M308.7 239.3h0M311.7 236.9h0M314.8 233.7h0M317.8 231.4h0M320.9 228.4h0M323.9 225.4h0M326.9 223.8h0M330 222.1h0M333 219.4h0M336.1 217.3h0M339.1 214.9h0M342.1 211.4h0M345.2 209.6h0M348.2 208.3h0M351.3 205.1h0M354.3 202.6h0M357.3 201.3h0M360.4 199.4h0M363.4 197.2h0M366.5 194.9h0M369.5 192.7h0M372.5 190.5h0M375.6 188.5h0M378.6 186.7h0M381.7 184.7h0M384.7 183.2h0M387.7 182.5h0M390.8 180h0M393.8 178.1h0M396.9 176.7h0M399.9 174.4h0M402.9 173.3h0M406 172h0M409 169.2h0M412.1 168h0M415.1 166.7h0M418.1 164.9h0M421.2 163.4h0M424.2 162.3h0M427.3 162.2h0M430.3 160h0M433.3 158.6h0M436.4 157.5h0M439.4 155.7h0M442.5 154h0M445.5 153.6h0M448.5 152.7h0M451.6 150h0M454.6 150.1h0M457.7 149.3h0M460.7 147.5h0M463.7 146.4h0M466.8 145.9h0M469.8 144.1h0M472.9 143.8h0M475.9 143h0M478.9 141.5h0M482 140.3h0M485 140h0M488.1 138.6h0M491.1 137.9h0M494.1 135.6h0M497.2 136.5h0M500.2 134.6h0M503.3 134.5h0M506.3 133.7h0M509.3 132.4h0M512.4 131.5h0M515.4 130.6h0M518.5 130.3h0M521.5 130h0M524.5 129.2h0M527.6 128h0M530.6 127.2h0M533.7 126.2h0M536.7 126h0M539.7 125h0M542.8 124.2h0M545.8 124.2h0M548.9 124.4h0M551.9 123.7h0M554.9 123.2h0M558 121.2h0M561 121.9h0M564.1 120.3h0M567.1 120.1h0M570.1 119.1h0M573.2 119h0M576.2 119h0M579.3 118.6h0M582.3 118h0M585.3 117.6h0M588.4 117.5h0M591.4 116.8h0M594.5 115.6h0M597.5 116.9h0M600.5 115.5h0M603.6 115.7h0M606.6 114.8h0M609.7 114.2h0M612.7 114.3h0M615.7 113.6h0M618.8 114.4h0M621.8 112.8h0M624.9 113.3h0M627.9 112.4h0M630.9 112.3h0M634 113.4h0M637 112.2h0M640.1 111.4h0M643.1 110.5h0M646.1 110.8h0M649.2 110.5h0M652.2 111h0M655.3 109.4h0M658.3 108.9h0M661.3 109.5h0M664.4 109.3h0M667.4 109.7h0M670.5 108.2h0M673.5 107.1h0M676.5 107.8h0M679.6 107.2h0M107.2 503h0M108 500.6h0M111.1 497.3h0M114.1 492.2h0M117.2 487.4h0M120.2 482.6h0M123.2 478.2h0M126.3 473.7h0M129.3 469.6h0M132.4 465.2h0M135.4 459.9h0M138.4 455.5h0M141.5 451.1h0M144.5 446.4h0M147.6 441.3h0M150.6 437.3h0M153.6 432.4h0M156.7 427.9h0M159.7 422.4h0M162.8 417.7h0M165.8 412.4h0M168.8 409.6h0M171.9 404.7h0M174.9 399.4h0M178 395.6h0M181 391.2h0M184 385.8h0M187.1 382.5h0M190.1 378.6h0M193.2 374.4h0M196.2 369.4h0M199.2 365.2h0M202.3 361.9h0M205.3 357.6h0M208.4 352.8h0M211.4 348.7h0M214.4 345.3h0M217.5 340.7h0M220.5 336.7h0M223.6 334h0M226.6 329.4h0M229.6 325.2h0M232.7 321.9h0M235.7 318.9h0M238.8 314.3h0M241.8 310.2h0M244.8 306.2h0M247.9 304.5h0M250.9 298.7h0M254 297.1h0M257 292.6h0M260 289.2h0M263.1 286h0M266.1 283.1h0M269.2 280.6h0M272.2 276.5h0M275.2 274h0M278.3 271.8h0M281.3 266.2h0M284.4 264.2h0M287.4 260.6h0M290.4 259h0M293.5 254.9h0M296.5 252h0M299.6 249.2h0M302.6 247.1h0M305.6 245h0M308.7 241.7h0M311.7 240h0M314.8 237.1h0M317.8 233.7h0M320.8 231.6h0M323.9 228.7h0M326.9 226.2h0M330 222.8h0M333 220.7h0M336 219h0M339.1 216.1h0M342.1 214.7h0M345.2 212.3h0M348.2 209.4h0M351.2 208.3h0M354.3 205.7h0M357.3 204.1h0M360.4 201.3h0M363.4 198.5h0M366.4 197.6h0M369.5 195.2h0M372.5 193.7h0M375.6 191.9h0M378.6 190.1h0M381.6 186.9h0M384.7 184.6h0M387.7 183.7h0M390.8 182.5h0M393.8 180h0M396.8 178.8h0M399.9 176.5h0M402.9 175.1h0M406 173.5h0M409 171.7h0M412 170.7h0M415.1 169.1h0M418.1 168.2h0M421.2 166.1h0M424.2 165.2h0M427.2 163.1h0M430.3 162.2h0M433.3 160.3h0M436.4 158.8h0M439.4 158.5h0M442.4 156.9h0M445.5 155.8h0M448.5 153.7h0M451.6 152.1h0M454.6 151.4h0M457.6 150.9h0M460.7 148.9h0M463.7 149.3h0M466.8 146.8h0M469.8 146.8h0M472.8 146.8h0M475.9 143.2h0M478.9 142.7h0M482 143.1h0M485 141.5h0M488 140.8h0M491.1 139.8h0M494.1 139.6h0M497.2 138.4h0M500.2 136.9h0M503.2 136.2h0M506.3 134.9h0M509.3 134.6h0M512.4 132.7h0M515.4 133.4h0M518.4 132.1h0M521.5 132.4h0M524.5 131.4h0M527.6 129.4h0M530.6 129.8h0M533.6 128.4h0M536.7 128h0M539.7 127.9h0M542.8 126.9h0M545.8 126.4h0M548.8 125.7h0M551.9 124.6h0M554.9 124h0M558 124.1h0M561 123.7h0M564 122.6h0M567.1 122.3h0M570.1 121.2h0M573.2 120h0M576.2 120.4h0M579.2 120.4h0M582.3 120h0M585.3 119.9h0M588.4 119.5h0M591.4 119.1h0M594.4 118.4h0M597.5 118.1h0M600.5 117.1h0M603.6 117.3h0M606.6 116.9h0M609.6 117h0M612.7 115.3h0M615.7 115.5h0M618.8 114.6h0M621.8 114.8h0M624.8 114.1h0M627.9 114.7h0M630.9 113.9h0M634 112.7h0M637 114.3h0M640 112.8h0M643.1 112.3h0M646.1 112.6h0M649.2 112.1h0M652.2 111.6h0M655.2 112.2h0M658.3 111.4h0M661.3 111.7h0M664.4 111.3h0M667.4 111h0M670.4 110.5h0M673.5 110.1h0M676.5 109.6h0M679.6 110.3h0M107.2 503.3h0M109.8 499.6h0M112.8 495.7h0M115.9 491h0M118.9 486.2h0M122 481.8h0M125 478.3h0M128 472.5h0M131.1 466.8h0M134.1 464.6h0M137.2 458.5h0M140.2 454.2h0M143.2 449.8h0M146.3 444.4h0M149.3 441h0M152.4 435.7h0M155.4 430.5h0M158.4 426.7h0M161.5 422.3h0M164.5 417.5h0M167.6 413.3h0M170.6 407.8h0M173.6 404.6h0M176.7 399.3h0M179.7 396h0M182.8 390.6h0M185.8 386.7h0M188.8 383.7h0M191.9 378.1h0M194.9 374.4h0M198 369.9h0M201 364.8h0M204 362.1h0M207.1 358h0M210.1 352.7h0M213.2 349.3h0M216.2 344.6h0M219.2 341.2h0M222.3 337.9h0M225.3 333.5h0M228.4 329h0M231.4 325.4h0M234.4 322.1h0M237.5 318.3h0M240.5 314.8h0M243.6 311.4h0M246.6 306.6h0M249.6 304h0M252.7 301.1h0M255.7 297.4h0M258.8 293.4h0M261.8 290.2h0M264.8 287.3h0M267.9 284.3h0M270.9 280.8h0M274 278.5h0M277 275.2h0M280 271.1h0M283.1 268.7h0M286.1 265.2h0M289.2 261.8h0M292.2 259.2h0M295.2 256.6h0M298.3 252.7h0M301.3 250.6h0M304.4 248.3h0M307.4 245h0M310.4 242.5h0M313.5 240.5h0M316.5 237.4h0M319.6 234.9h0M322.6 233.3h0M325.6 229.9h0M328.7 227.5h0M331.7 225.1h0M334.8 223.3h0M337.8 220.4h0M340.8 217.9h0M343.9 215.5h0M346.9 213.9h0M350 210.8h0M353 209.6h0M356 206.9h0M359.1 204.1h0M362.1 203h0M365.2 200.8h0M368.2 198h0M371.2 196.8h0M374.3 194.7h0M377.3 192.6h0M380.4 190.2h0M383.4 190h0M386.4 187.4h0M389.5 185.7h0M392.5 184h0M395.6 182.1h0M398.6 180.4h0M401.6 178.1h0M404.7 177h0M407.7 174.9h0M410.8 173.1h0M413.8 172.1h0M416.8 170.1h0M419.9 167.9h0M422.9 167h0M426 166.1h0M429 164.4h0M432 163.5h0M435.1 161.5h0M438.1 159.9h0M441.2 159.5h0M444.2 158h0M447.2 156.1h0M450.3 155.7h0M453.3 154.2h0M456.4 153.7h0M459.4 152.5h0M462.4 151.2h0M465.5 148.8h0M468.5 149.1h0M471.6 148.1h0M474.6 147.1h0M477.6 145.9h0M480.7 144.6h0M483.7 143.8h0M486.8 142h0M489.8 142h0M492.8 140.5h0M495.9 140.2h0M498.9 139.1h0M502 139.3h0M505 137.8h0M508 136.9h0M511.1 136.1h0M514.1 136.3h0M517.2 134h0M520.2 133.8h0M523.2 133.1h0M526.3 132.3h0M529.3 131.6h0M532.4 130.6h0M535.4 130.7h0M538.4 129.9h0M541.5 128.7h0M544.5 128.1h0M547.6 127.7h0M550.6 127.3h0M553.6 126.8h0M556.7 125.9h0M559.7 124.7h0M562.8 125.3h0M565.8 123.5h0M568.8 123.3h0M571.9 123.5h0M574.9 122.4h0M578 123h0M581 122.7h0M584 122.1h0M587.1 121.2h0M590.1 120.8h0M593.2 120.5h0M596.2 119.8h0M599.2 120.5h0M602.3 118.9h0M605.3 119.4h0M608.4 118.7h0M611.4 118.3h0M614.4 118.3h0M617.5 118.1h0M620.5 117.6h0M623.6 116.8h0M626.6 116.2h0M629.6 116h0M632.7 116.4h0M635.7 116h0M638.8 115.8h0M641.8 114.8h0M644.8 115.7h0M647.9 113.8h0M650.9 114.4h0M654 114.2h0M657 113.3h0M660 112.7h0M663.1 112.7h0M666.1 112.1h0M669.2 112.3h0M672.2 111.4h0M675.2 111.2h0M678.3 111.5h0M107.2 505.4h0M107.5 505h0M110.6 501h0M113.6 496.3h0M116.6 491.3h0M119.7 487.9h0M122.7 482.5h0M125.8 478.1h0M128.8 473.7h0M131.8 470.3h0M134.9 464.7h0M137.9 459.8h0M141 455.9h0M144 450.9h0M147 447.5h0M150.1 441.4h0M153.1 437.5h0M156.2 432.2h0M159.2 428.9h0M162.2 423.2h0M165.3 419.2h0M168.3 414.2h0M171.4 410.7h0M174.4 406.1h0M177.4 400.4h0M180.5 397.5h0M183.5 393.2h0M186.6 388.7h0M189.6 384.8h0M192.6 379.5h0M195.7 375.1h0M198.7 372.2h0M201.8 368.5h0M204.8 363.1h0M207.8 359.1h0M210.9 355.2h0M213.9 351h0M217 348h0M220 343.6h0M223 340.3h0M226.1 336.4h0M229.1 331.3h0M232.2 328.3h0M235.2 323.2h0M238.2 320.5h0M241.3 317.2h0M244.3 312.9h0M247.4 308.9h0M250.4 306h0M253.4 303.4h0M256.5 299.2h0M259.5 295.4h0M262.6 293h0M265.6 289.9h0M268.6 285.8h0M271.7 283h0M274.7 280.5h0M277.8 277.1h0M280.8 274.2h0M283.8 270.6h0M286.9 267.7h0M289.9 264.3h0M293 261.6h0M296 259.8h0M299 256h0M302.1 252.9h0M305.1 250.3h0M308.2 247.3h0M311.2 245.4h0M314.2 242.9h0M317.3 239.4h0M320.3 237.8h0M323.4 235.7h0M326.4 231.7h0M329.4 230.1h0M332.5 227.5h0M335.5 225.6h0M338.6 223.3h0M341.6 220.9h0M344.6 218.2h0M347.7 215.6h0M350.7 214.7h0M353.8 211h0M356.8 209.8h0M359.8 207.6h0M362.9 204.7h0M365.9 203h0M369 201.7h0M372 198h0M375 197.4h0M378.1 194.9h0M381.1 193h0M384.2 190.5h0M387.2 189.6h0M390.2 187h0M393.3 186.1h0M396.3 183.4h0M399.4 182.5h0M402.4 180.6h0M405.4 177.8h0M408.5 176.9h0M411.5 175.4h0M414.6 172.8h0M417.6 172.1h0M420.6 171.2h0M423.7 168.9h0M426.7 168.4h0M429.8 165.8h0M432.8 164.4h0M435.8 163.9h0M438.9 162.6h0M441.9 161h0M445 159.8h0M448 159h0M451 157.1h0M454.1 157.2h0M457.1 155.2h0M460.2 154.1h0M463.2 152.9h0M466.2 151.6h0M469.3 151.2h0M472.3 149.3h0M475.4 148.7h0M478.4 147.9h0M481.4 147.3h0M484.5 146.2h0M487.5 144.5h0M490.6 144.3h0M493.6 142.8h0M496.6 141.5h0M499.7 140.6h0M502.7 139.5h0M505.8 139.5h0M508.8 139h0M511.8 137.2h0M514.9 136.7h0M517.9 135.5h0M521 135.3h0M524 134h0M527 133.4h0M530.1 132.8h0M533.1 132.2h0M536.2 131.5h0M539.2 131h0M542.2 130.3h0M545.3 129.3h0M548.3 129.5h0M551.4 127.8h0M554.4 128.1h0M557.4 127h0M560.5 127h0M563.5 126.6h0M566.6 124.9h0M569.6 125.6h0M572.6 125.6h0M575.7 124.8h0M578.7 124.2h0M581.8 122.5h0M584.8 123.1h0M587.8 122.3h0M590.9 122.8h0M593.9 121.8h0M597 121.2h0M600 120.3h0M603 121.2h0M606.1 120.2h0M609.1 120h0M612.2 120.3h0M615.2 119.5h0M618.2 119.3h0M621.3 120h0M624.3 118.3h0M627.4 118h0M630.4 118.2h0M633.4 118.4h0M636.5 116.7h0M639.5 117h0M642.6 116.3h0M645.6 115.8h0M648.6 116.4h0M651.7 115.5h0M654.7 115.7h0M657.8 115.3h0M660.8 115h0M663.8 114.6h0M666.9 113.8h0M669.9 114h0M673 113.8h0M676 113.6h0M679 113h0M107.2 507.8h0M108.7 505.5h0M111.7 501.4h0M114.7 496.8h0M117.8 492.6h0M120.8 487h0M123.9 482.9h0M126.9 478.9h0M129.9 474.8h0M133 469.2h0M136 465.6h0M139.1 461.3h0M142.1 456.6h0M145.1 452h0M148.2 447h0M151.2 443.1h0M154.3 437.6h0M157.3 434.6h0M160.3 429.3h0M163.4 425.7h0M166.4 419.9h0M169.5 416.6h0M172.5 412.1h0M175.5 407.3h0M178.6 402.9h0M181.6 399.8h0M184.7 395.2h0M187.7 391.5h0M190.7 386.6h0M193.8 382.5h0M196.8 378.5h0M199.9 374.6h0M202.9 370.4h0M205.9 366.5h0M209 361.9h0M212 357.4h0M215.1 355h0M218.1 350.1h0M221.1 346.3h0M224.2 341.9h0M227.2 338.7h0M230.3 334.5h0M233.3 331.1h0M236.3 326.5h0M239.4 323.1h0M242.4 319.6h0M245.5 315.8h0M248.5 312.6h0M251.5 309.7h0M254.6 305.2h0M257.6 302h0M260.7 298.9h0M263.7 295h0M266.7 291.7h0M269.8 289.6h0M272.8 286.3h0M275.9 282h0M278.9 279h0M281.9 277h0M285 274.2h0M288 271h0M291.1 268h0M294.1 265.6h0M297.1 261.9h0M300.2 259.7h0M303.2 256.9h0M306.3 253h0M309.3 251.1h0M312.3 248.1h0M315.4 245.1h0M318.4 242.4h0M321.5 240.4h0M324.5 237.6h0M327.5 235.6h0M330.6 231.9h0M333.6 230h0M336.7 228.5h0M339.7 225.6h0M342.7 222.9h0M345.8 220.8h0M348.8 217.9h0M351.9 215.9h0M354.9 214.6h0M357.9 212.2h0M361 210.7h0M364 207.8h0M367.1 205.8h0M370.1 202.5h0M373.1 201.8h0M376.2 200.9h0M379.2 198.2h0M382.3 195.9h0M385.3 194.7h0M388.3 192.6h0M391.4 190.5h0M394.4 188.3h0M397.5 186.8h0M400.5 185.3h0M403.5 182.8h0M406.6 181.7h0M409.6 180h0M412.7 178.7h0M415.7 176.8h0M418.7 174.5h0M421.8 174h0M424.8 171.7h0M427.9 169.8h0M430.9 168.9h0M433.9 167.2h0M437 166.4h0M440 163.9h0M443.1 162.7h0M446.1 161.8h0M449.1 161.5h0M452.2 159.9h0M455.2 157.7h0M458.3 156.1h0M461.3 155.6h0M464.3 154h0M467.4 153.8h0M470.4 152.5h0M473.5 151.4h0M476.5 150.1h0M479.5 150h0M482.6 147.8h0M485.6 146.7h0M488.7 146.9h0M491.7 146.1h0M494.7 144.3h0M497.8 143.9h0M500.8 143.8h0M503.9 141.4h0M506.9 140.8h0M509.9 140.3h0M513 138.2h0M516 138.3h0M519.1 138h0M522.1 136.8h0M525.1 136.6h0M528.2 135.7h0M531.2 134.5h0M534.3 134.2h0M537.3 133.5h0M540.3 131.8h0M543.4 131.6h0M546.4 131h0M549.5 130.5h0M552.5 130h0M555.5 128.9h0M558.6 129.1h0M561.6 127.7h0M564.7 128.5h0M567.7 127.7h0M570.7 127.7h0M573.8 126.8h0M576.8 125.9h0M579.9 125h0M582.9 125.6h0M585.9 124.8h0M589 124.6h0M592 124.4h0M595.1 124.2h0M598.1 123.2h0M601.1 123.7h0M604.2 122.5h0M607.2 122.2h0M610.3 122.2h0M613.3 122h0M616.3 121.9h0M619.4 120h0M622.4 121.3h0M625.5 119.6h0M628.5 119.8h0M631.5 119.9h0M634.6 120h0M637.6 118.7h0M640.7 118h0M643.7 119h0M646.7 118.4h0M649.8 117.4h0M652.8 117.4h0M655.9 116.3h0M658.9 117.2h0M661.9 116.4h0M665 116.9h0M668 115h0M671.1 116.1h0M674.1 116.5h0M677.1 115.2h0M107.2 509.2h0M109.1 507.5h0M112.2 503.1h0M115.2 498.5h0M118.2 493.7h0M121.3 490.3h0M124.3 485.4h0M127.4 481.4h0M130.4 477.4h0M133.4 472.9h0M136.5 468.5h0M139.5 464.5h0M142.6 459h0M145.6 455.9h0M148.6 450.2h0M151.7 445.8h0M154.7 441.9h0M157.8 437.8h0M160.8 433.2h0M163.8 428.5h0M166.9 424h0M169.9 419.9h0M173 415.3h0M176 411.8h0M179 407.2h0M182.1 403.9h0M185.1 398.6h0M188.2 394.8h0M191.2 391h0M194.2 386.1h0M197.3 382.2h0M200.3 379.9h0M203.4 374.5h0M206.4 371.2h0M209.4 365.9h0M212.5 361.2h0M215.5 358.7h0M218.6 354.4h0M221.6 350.5h0M224.6 346.3h0M227.7 342.2h0M230.7 338.1h0M233.8 335.4h0M236.8 330.4h0M239.8 327.9h0M242.9 323.7h0M245.9 319.7h0M249 316.4h0M252 313.7h0M255 310.2h0M258.1 306.7h0M261.1 303.2h0M264.2 299.3h0M267.2 297.3h0M270.2 293.2h0M273.3 290h0M276.3 286.9h0M279.4 283.9h0M282.4 280.3h0M285.4 277.8h0M288.5 274.7h0M291.5 271.9h0M294.6 268.3h0M297.6 267.3h0M300.6 262.9h0M303.7 260.8h0M306.7 258h0M309.8 255.6h0M312.8 253.4h0M315.8 250h0M318.9 247.5h0M321.9 244.3h0M325 242.8h0M328 238.8h0M331 237h0M334.1 234.8h0M337.1 232.6h0M340.2 230.3h0M343.2 228.2h0M346.2 225.6h0M349.3 223h0M352.3 220.9h0M355.4 219.3h0M358.4 216.6h0M361.4 214.7h0M364.5 212.1h0M367.5 209.2h0M370.6 207.7h0M373.6 206.1h0M376.6 204.7h0M379.7 202.7h0M382.7 200.8h0M385.8 197.7h0M388.8 196.6h0M391.8 194.3h0M394.9 192.7h0M397.9 190.5h0M401 188.1h0M404 187.3h0M407 185.3h0M410.1 183.8h0M413.1 181.2h0M416.2 180.4h0M419.2 178.8h0M422.2 177.3h0M425.3 175.7h0M428.3 173.2h0M431.4 170.7h0M434.4 170.9h0M437.4 168.5h0M440.5 167.4h0M443.5 166.7h0M446.6 164.9h0M449.6 163.5h0M452.6 162.4h0M455.7 159.9h0M458.7 160.5h0M461.8 158.2h0M464.8 157h0M467.8 156.3h0M470.9 154.8h0M473.9 153.3h0M477 152.6h0M480 151.4h0M483 150.2h0M486.1 150.5h0M489.1 147.8h0M492.2 146.4h0M495.2 146.1h0M498.2 145.1h0M501.3 145.4h0M504.3 143.9h0M507.4 143.3h0M510.4 142.4h0M513.4 140.8h0M516.5 140.8h0M519.5 139.7h0M522.6 139.8h0M525.6 138.2h0M528.6 137.3h0M531.7 137h0M534.7 136.3h0M537.8 134.4h0M540.8 135.3h0M543.8 134.5h0M546.9 133.8h0M549.9 132.2h0M553 131.2h0M556 131.5h0M559 131.5h0M562.1 130.8h0M565.1 129.6h0M568.2 130h0M571.2 128.4h0M574.2 127.9h0M577.3 128.1h0M580.3 127.4h0M583.4 126.9h0M586.4 126.1h0M589.4 127h0M592.5 125.5h0M595.5 125.9h0M598.6 125.7h0M601.6 124.9h0M604.6 124.7h0M607.7 124.8h0M610.7 124.7h0M613.8 124.1h0M616.8 122.6h0M619.8 122.1h0M622.9 122.4h0M625.9 121.9h0M629 122.4h0M632 121.9h0M635 121.4h0M638.1 121.8h0M641.1 121.4h0M644.2 120.6h0M647.2 120.5h0M650.2 120.5h0M653.3 119.5h0M656.3 119.4h0M659.4 118.5h0M662.4 118.7h0M665.4 118.5h0M668.5 118h0M671.5 117.8h0M674.6 117.8h0M677.6 117.3h0M107.2 512.8h0M110.2 508.3h0M113.2 505.6h0M116.3 500.8h0M119.3 496.6h0M122.3 492.2h0M125.4 488.3h0M128.4 484.1h0M131.5 479.2h0M134.5 475.3h0M137.5 471.6h0M140.6 466.1h0M143.6 461.9h0M146.7 458.3h0M149.7 453.3h0M152.7 449.7h0M155.8 444.4h0M158.8 440.8h0M161.9 436.7h0M164.9 432.2h0M167.9 428.2h0M171 423.5h0M174 419.3h0M177.1 415.3h0M180.1 411.5h0M183.1 408.9h0M186.2 403h0M189.2 399.9h0M192.3 394.8h0M195.3 390.4h0M198.3 386.8h0M201.4 383.1h0M204.4 379h0M207.5 375h0M210.5 371.2h0M213.5 367.2h0M216.6 363.3h0M219.6 358.3h0M222.7 354.8h0M225.7 350.4h0M228.7 347.1h0M231.8 343.1h0M234.8 339.4h0M237.9 335.4h0M240.9 331.6h0M243.9 328.2h0M247 325.1h0M250 321.7h0M253.1 317h0M256.1 314.5h0M259.1 311.2h0M262.2 307h0M265.2 303.9h0M268.3 301h0M271.3 298.3h0M274.3 293.8h0M277.4 291.7h0M280.4 288.5h0M283.5 285.9h0M286.5 283.5h0M289.5 280.5h0M292.6 276.7h0M295.6 273.8h0M298.7 271.2h0M301.7 268.8h0M304.7 266.1h0M307.8 262.8h0M310.8 260.6h0M313.9 256.8h0M316.9 254h0M319.9 250.5h0M323 248.9h0M326 247.1h0M329.1 244.7h0M332.1 243.5h0M335.1 239.7h0M338.2 237.1h0M341.2 234.2h0M344.3 232h0M347.3 229.7h0M350.3 227.6h0M353.4 225.2h0M356.4 222.6h0M359.5 221.6h0M362.5 219.1h0M365.5 217.4h0M368.6 213.9h0M371.6 211.9h0M374.7 210.1h0M377.7 209.1h0M380.7 206.4h0M383.8 204.6h0M386.8 202.5h0M389.9 200.7h0M392.9 198.4h0M395.9 196.9h0M399 194.4h0M402 192.8h0M405.1 191.2h0M408.1 189.2h0M411.1 187.6h0M414.2 185.1h0M417.2 183.9h0M420.3 181.8h0M423.3 180.4h0M426.3 179.3h0M429.4 176.5h0M432.4 175.8h0M435.5 173.4h0M438.5 171.9h0M441.5 171.4h0M444.6 169.6h0M447.6 167.9h0M450.7 166.7h0M453.7 165.4h0M456.7 163.1h0M459.8 162.3h0M462.8 160.7h0M465.9 159.8h0M468.9 158.2h0M471.9 157.5h0M475 156h0M478 154.5h0M481.1 153.7h0M484.1 152.8h0M487.1 152.1h0M490.2 150.4h0M493.2 149.3h0M496.3 148.6h0M499.3 147.9h0M502.3 146.3h0M505.4 144.5h0M508.4 145h0M511.5 143.8h0M514.5 142.9h0M517.5 143.6h0M520.6 141.5h0M523.6 141.1h0M526.7 139.3h0M529.7 139.4h0M532.7 138.9h0M535.8 138h0M538.8 137.1h0M541.9 136.8h0M544.9 136h0M547.9 136h0M551 134.8h0M554 133.8h0M557.1 132.6h0M560.1 132.7h0M563.1 132.4h0M566.2 131.4h0M569.2 131h0M572.3 130.2h0M575.3 130h0M578.3 130.2h0M581.4 129.6h0M584.4 129.2h0M587.5 128.7h0M590.5 128.4h0M593.5 128.5h0M596.6 128.7h0M599.6 127.7h0M602.7 128h0M605.7 126.6h0M608.7 126.3h0M611.8 126.8h0M614.8 125.3h0M617.9 124.9h0M620.9 125h0M623.9 124h0M627 123.6h0M630 124.8h0M633.1 123.4h0M636.1 123.4h0M639.1 123.1h0M642.2 122.5h0M645.2 123h0M648.3 122.6h0M651.3 122.4h0M654.3 122h0M657.4 121.4h0M660.4 121.7h0M663.5 121.2h0M666.5 120h0M669.5 120h0M672.6 119.5h0M675.6 120.3h0M678.7 119.5h0M107.2 516.3h0M110.1 512.8h0M113.1 507.9h0M116.1 504.4h0M119.2 500.2h0M122.2 496.2h0M125.3 491.8h0M128.3 488.3h0M131.3 483.4h0M134.4 479.6h0M137.4 475.5h0M140.5 471.4h0M143.5 466.9h0M146.5 462.4h0M149.6 458.2h0M152.6 454.2h0M155.7 449.7h0M158.7 445.9h0M161.7 441.1h0M164.8 437.5h0M167.8 434.3h0M170.9 428.6h0M173.9 425.1h0M176.9 421.6h0M180 417.2h0M183 413.5h0M186.1 408.1h0M189.1 404.9h0M192.1 402h0M195.2 397h0M198.2 393.5h0M201.3 388.4h0M204.3 385.8h0M207.3 382.4h0M210.4 377.3h0M213.4 373.5h0M216.5 369.5h0M219.5 366.3h0M222.5 361.1h0M225.6 356.5h0M228.6 354.3h0M231.7 348.9h0M234.7 346h0M237.7 340.8h0M240.8 338.1h0M243.8 334.8h0M246.9 330.6h0M249.9 327.3h0M252.9 324.4h0M256 320.4h0M259 317.6h0M262.1 314.9h0M265.1 309.8h0M268.1 307.7h0M271.2 304.7h0M274.2 301.1h0M277.3 298.9h0M280.3 295.8h0M283.3 292.3h0M286.4 289.3h0M289.4 286.1h0M292.5 282.6h0M295.5 280.5h0M298.5 277.1h0M301.6 274.2h0M304.6 272.2h0M307.7 268.8h0M310.7 266.6h0M313.7 262.9h0M316.8 260.5h0M319.8 258.1h0M322.9 256.2h0M325.9 252.9h0M328.9 250.8h0M332 247.6h0M335 245.6h0M338.1 243.5h0M341.1 240.3h0M344.1 238h0M347.2 236.3h0M350.2 233.2h0M353.3 231.6h0M356.3 229.4h0M359.3 226.9h0M362.4 225.1h0M365.4 222.8h0M368.5 220.5h0M371.5 217.6h0M374.5 215.5h0M377.6 214.3h0M380.6 211.3h0M383.7 210.1h0M386.7 207.9h0M389.7 205.7h0M392.8 204h0M395.8 201.1h0M398.9 200.3h0M401.9 199.1h0M404.9 196h0M408 195h0M411 193.2h0M414.1 192.7h0M417.1 189.1h0M420.1 187.5h0M423.2 185.9h0M426.2 184.2h0M429.3 182.3h0M432.3 181.6h0M435.3 179.7h0M438.4 179h0M441.4 177.4h0M444.5 175.4h0M447.5 174.4h0M450.5 173.9h0M453.6 171.8h0M456.6 170.8h0M459.7 169.9h0M462.7 168.1h0M465.7 167.3h0M468.8 166.8h0M471.8 165.4h0M474.9 162.9h0M477.9 163.4h0M480.9 161.5h0M484 160.3h0M487 159.3h0M490.1 159.2h0M493.1 157.8h0M496.1 156.6h0M499.2 155.3h0M502.2 155.1h0M505.3 154.4h0M508.3 152.4h0M511.3 151.5h0M514.4 151h0M517.4 150.6h0M520.5 149.3h0M523.5 148.6h0M526.5 147.5h0M529.6 147.8h0M532.6 146.4h0M535.7 145.8h0M538.7 145.6h0M541.7 144.3h0M544.8 143.8h0M547.8 143.4h0M550.9 142.4h0M553.9 142.7h0M556.9 141.5h0M560 140.7h0M563 140.2h0M566.1 139.3h0M569.1 139.9h0M572.1 139.6h0M575.2 138.3h0M578.2 137.8h0M581.3 136.5h0M584.3 136.8h0M587.3 137.2h0M590.4 136h0M593.4 136.4h0M596.5 136.3h0M599.5 134h0M602.5 134.8h0M605.6 134.2h0M608.6 134h0M611.7 133.1h0M614.7 133.5h0M617.7 132.8h0M620.8 133.6h0M623.8 133.5h0M626.9 131.8h0M629.9 131.5h0M632.9 131.7h0M636 131.5h0M639 131.2h0M642.1 131.3h0M645.1 129.9h0M648.1 130h0M651.2 129.7h0M654.2 129.4h0M657.3 128.7h0M660.3 128.6h0M663.3 128.1h0M666.4 128.7h0M669.4 127.5h0M672.5 126.3h0M675.5 127.3h0M678.5 126.8h0" stroke="#0EA33D" stroke-width="3.3" stroke-linecap="round" fill="none"/>
<path d="M107.2 532.1h0M110.7 531.7h0M114.2 531.3h0M117.8 530.9h0M121.3 530.4h0M124.8 530h0M128.3 529.5h0M131.8 529h0M135.4 528.5h0M138.9 528h0M142.4 527.4h0M145.9 526.9h0M149.4 526.3h0M153 525.8h0M156.5 525.2h0M160 524.5h0M163.5 523.9h0M167 523.3h0M170.6 522.6h0M174.1 522h0M177.6 521.3h0M181.1 520.6h0M184.6 519.9h0M188.2 519.2h0M191.7 518.5h0M195.2 517.7h0M198.7 517h0M202.2 516.2h0M205.8 515.5h0M209.3 514.7h0M212.8 513.9h0M216.3 513.1h0M219.8 512.3h0M223.4 511.4h0M226.9 510.6h0M230.4 509.7h0M233.9 508.9h0M237.4 508h0M241 507.1h0M244.5 506.3h0M248 505.4h0M251.5 504.4h0M255 503.5h0M258.6 502.6h0M262.1 501.7h0M265.6 500.7h0M269.1 499.8h0M272.6 498.8h0M276.2 497.8h0M279.7 496.9h0M283.2 495.9h0M286.7 494.9h0M290.2 493.9h0M293.8 492.9h0M297.3 491.9h0M300.8 490.9h0M304.3 489.8h0M307.8 488.8h0M311.4 487.8h0M314.9 486.7h0M318.4 485.7h0M321.9 484.6h0M325.4 483.5h0M329 482.5h0M332.5 481.4h0M336 480.3h0M339.5 479.2h0M343 478.1h0M346.6 477h0M350.1 475.9h0M353.6 474.8h0M357.1 473.7h0M360.6 472.6h0M364.2 471.5h0M367.7 470.4h0M371.2 469.3h0M374.7 468.1h0M378.2 467h0M381.8 465.9h0M385.3 464.7h0M388.8 463.6h0M392.3 462.5h0M395.8 461.3h0M399.4 460.2h0M402.9 459h0M406.4 457.9h0M409.9 456.7h0M413.4 455.6h0M417 454.4h0M420.5 453.3h0M424 452.1h0M427.5 451h0M431 449.8h0M434.6 448.6h0M438.1 447.5h0M441.6 446.3h0M445.1 445.2h0M448.6 444h0M452.2 442.9h0M455.7 441.7h0M459.2 440.6h0M462.7 439.4h0M466.2 438.2h0M469.8 437.1h0M473.3 435.9h0M476.8 434.8h0M480.3 433.7h0M483.8 432.5h0M487.4 431.4h0M490.9 430.2h0M494.4 429.1h0M497.9 428h0M501.4 426.8h0M505 425.7h0M508.5 424.6h0M512 423.5h0M515.5 422.3h0M519 421.2h0M522.6 420.1h0M526.1 419h0M529.6 417.9h0M533.1 416.8h0M536.6 415.7h0M540.2 414.6h0M543.7 413.5h0M547.2 412.5h0M550.7 411.4h0M554.2 410.3h0M557.8 409.3h0M561.3 408.2h0M564.8 407.2h0M568.3 406.1h0M571.8 405.1h0M575.4 404.1h0M578.9 403h0M582.4 402h0M585.9 401h0M589.4 400h0M593 399h0M596.5 398h0M600 397h0M603.5 396.1h0M607 395.1h0M610.6 394.1h0M614.1 393.2h0M617.6 392.3h0M621.1 391.3h0M624.6 390.4h0M628.2 389.5h0M631.7 388.6h0M635.2 387.7h0M638.7 386.8h0M642.2 385.9h0M645.8 385.1h0M649.3 384.2h0M652.8 383.4h0M656.3 382.6h0M659.8 381.7h0M663.4 380.9h0M666.9 380.1h0M670.4 379.3h0M673.9 378.6h0M677.4 377.8h0M109 532.9h0M112.5 532.5h0M116 532.1h0M119.5 531.6h0M123 531.2h0M126.6 530.7h0M130.1 530.2h0M133.6 529.7h0M137.1 529.2h0M140.6 528.7h0M144.2 528.1h0M147.7 527.6h0M151.2 527h0M154.7 526.4h0M158.2 525.8h0M161.8 525.2h0M165.3 524.6h0M168.8 523.9h0M172.3 523.3h0M175.8 522.6h0M179.4 521.9h0M182.9 521.2h0M186.4 520.5h0M189.9 519.8h0M193.4 519.1h0M197 518.3h0M200.5 517.6h0M204 516.8h0M207.5 516h0M211 515.3h0M214.6 514.5h0M218.1 513.6h0M221.6 512.8h0M225.1 512h0M228.6 511.1h0M232.2 510.3h0M235.7 509.4h0M239.2 508.6h0M242.7 507.7h0M246.2 506.8h0M249.8 505.9h0M253.3 505h0M256.8 504h0M260.3 503.1h0M263.8 502.2h0M267.4 501.2h0M270.9 500.3h0M274.4 499.3h0M277.9 498.3h0M281.4 497.4h0M285 496.4h0M288.5 495.4h0M292 494.4h0M295.5 493.4h0M299 492.3h0M302.6 491.3h0M306.1 490.3h0M309.6 489.3h0M313.1 488.2h0" stroke="#5A84CE" stroke-width="3.3" stroke-linecap="round" fill="none"/>
<path d="M937.1 524.6h0M943.8 524.2h0M950.5 523.8h0M957.2 523.4h0M963.9 522.9h0M970.5 522.4h0M977.2 521.9h0M983.9 521.4h0M990.6 520.8h0M997.3 520.2h0M1004 519.6h0M1010.7 519h0M1017.4 518.3h0M1024 517.6h0M1030.7 517h0M1037.4 516.3h0M1044.1 515.6h0M1050.8 514.8h0M1057.5 514.1h0M1064.2 513.3h0M1070.9 512.5h0M1077.5 511.6h0M1084.2 510.7h0M1090.9 509.8h0M1097.6 508.8h0M1104.3 507.8h0M1111 506.7h0M1117.7 505.6h0M1124.4 504.4h0M1131.1 503.1h0M1137.7 501.7h0M1144.4 500.3h0M1151.1 498.7h0M1157.8 497.1h0M1164.5 495.5h0M1171.2 493.9h0M1177.9 492.3h0M1184.6 490.6h0M1191.2 489.1h0M1197.9 487.5h0M1204.6 486h0M1211.3 484.6h0M1218 483.2h0M1224.7 481.7h0M1231.4 480.3h0M1238.1 478.8h0M1244.7 477.4h0M1251.4 476h0M1258.1 474.6h0M1264.8 473.1h0M1271.5 471.7h0M1278.2 470.3h0M1284.9 468.9h0M1291.6 467.5h0M1298.3 466.1h0M1304.9 464.7h0M1311.6 463.3h0M1318.3 461.9h0M1325 460.5h0M1331.7 459.1h0M1338.4 457.7h0M1345.1 456.4h0M1351.8 455h0M1358.4 453.6h0M1365.1 452.2h0M1371.8 450.9h0M1378.5 449.5h0M1385.2 448.2h0M1391.9 446.8h0M1398.6 445.5h0M1405.3 444.2h0M1411.9 442.8h0M1418.6 441.5h0M1425.3 440.2h0M1432 438.9h0M1438.7 437.5h0M1445.4 436.2h0M1452.1 434.9h0M1458.8 433.6h0M1465.5 432.4h0M1472.1 431.1h0M1478.8 429.8h0M1485.5 428.5h0M1492.2 427.3h0M1498.9 426h0M1505.6 424.7h0M937.1 526h0M943.8 525.7h0M950.5 525.3h0M957.2 524.9h0M963.9 524.5h0M970.5 524h0M977.2 523.5h0M983.9 523h0M990.6 522.5h0M997.3 521.9h0M1004 521.3h0M1010.7 520.7h0M1017.4 520.1h0M1024 519.4h0M1030.7 518.7h0M1037.4 518.1h0M1044.1 517.4h0M1050.8 516.7h0M1057.5 515.9h0M1064.2 515.1h0M1070.9 514.3h0M1077.5 513.4h0M1084.2 512.5h0M1090.9 511.6h0M1097.6 510.6h0M1104.3 509.5h0M1111 508.4h0M1117.7 507.3h0M1124.4 506.2h0M1131.1 504.9h0M1137.7 503.5h0M1144.4 502.1h0M1151.1 500.6h0M1157.8 499.1h0M1164.5 497.5h0M1171.2 496h0M1177.9 494.4h0M1184.6 492.8h0M1191.2 491.3h0M1197.9 489.8h0M1204.6 488.4h0M1211.3 487h0M1218 485.6h0M1224.7 484.2h0M1231.4 482.8h0M1238.1 481.4h0M1244.7 480h0M1251.4 478.6h0M1258.1 477.2h0M1264.8 475.8h0M1271.5 474.4h0M1278.2 473h0M1284.9 471.6h0M1291.6 470.2h0M1298.3 468.9h0M1304.9 467.5h0M1311.6 466.1h0M1318.3 464.8h0M1325 463.4h0M1331.7 462h0M1338.4 460.7h0M1345.1 459.3h0M1351.8 458h0M1358.4 456.6h0M1365.1 455.3h0M1371.8 453.9h0M1378.5 452.6h0M1385.2 451.3h0M1391.9 449.9h0M1398.6 448.6h0M1405.3 447.3h0M1411.9 446h0M1418.6 444.6h0M1425.3 443.3h0M1432 442h0M1438.7 440.7h0M1445.4 439.4h0M1452.1 438.1h0M1458.8 436.8h0M1465.5 435.5h0M1472.1 434.3h0M1478.8 433h0M1485.5 431.7h0M1492.2 430.5h0M1498.9 429.2h0M1505.6 427.9h0M937.1 527.5h0M943.8 527.2h0M950.5 526.9h0M957.2 526.5h0M963.9 526.1h0M970.5 525.6h0M977.2 525.2h0M983.9 524.7h0M990.6 524.1h0M997.3 523.6h0M1004 523h0M1010.7 522.4h0M1017.4 521.8h0M1024 521.2h0M1030.7 520.5h0M1037.4 519.9h0M1044.1 519.2h0M1050.8 518.5h0M1057.5 517.8h0M1064.2 517h0M1070.9 516.1h0M1077.5 515.2h0M1084.2 514.3h0M1090.9 513.3h0M1097.6 512.3h0M1104.3 511.2h0M1111 510.2h0M1117.7 509.1h0M1124.4 507.9h0M1131.1 506.7h0M1137.7 505.3h0M1144.4 503.9h0M1151.1 502.5h0M1157.8 501h0M1164.5 499.6h0M1171.2 498h0M1177.9 496.5h0M1184.6 495h0M1191.2 493.6h0M1197.9 492.1h0M1204.6 490.7h0M1211.3 489.3h0M1218 488h0M1224.7 486.6h0M1231.4 485.2h0M1238.1 483.9h0M1244.7 482.5h0M1251.4 481.1h0M1258.1 479.8h0M1264.8 478.4h0M1271.5 477.1h0M1278.2 475.7h0M1284.9 474.4h0M1291.6 473h0M1298.3 471.7h0M1304.9 470.3h0M1311.6 469h0M1318.3 467.6h0M1325 466.3h0M1331.7 464.9h0M1338.4 463.6h0M1345.1 462.3h0M1351.8 460.9h0M1358.4 459.6h0M1365.1 458.3h0M1371.8 457h0M1378.5 455.6h0M1385.2 454.3h0M1391.9 453h0M1398.6 451.7h0M1405.3 450.4h0M1411.9 449.1h0M1418.6 447.8h0M1425.3 446.5h0M1432 445.2h0M1438.7 443.9h0M1445.4 442.6h0M1452.1 441.3h0M1458.8 440h0M1465.5 438.7h0M1472.1 437.5h0M1478.8 436.2h0M1485.5 434.9h0M1492.2 433.7h0M1498.9 432.4h0M1505.6 431.1h0M937.1 528.9h0M943.8 528.7h0M950.5 528.4h0M957.2 528h0M963.9 527.7h0M970.5 527.3h0M977.2 526.8h0M983.9 526.3h0M990.6 525.8h0M997.3 525.3h0M1004 524.7h0M1010.7 524.2h0M1017.4 523.6h0M1024 522.9h0M1030.7 522.3h0M1037.4 521.6h0M1044.1 521h0M1050.8 520.3h0M1057.5 519.6h0M1064.2 518.8h0M1070.9 517.9h0M1077.5 517h0M1084.2 516.1h0M1090.9 515.1h0M1097.6 514h0M1104.3 513h0M1111 511.9h0M1117.7 510.8h0M1124.4 509.6h0M1131.1 508.4h0M1137.7 507.1h0M1144.4 505.8h0M1151.1 504.4h0M1157.8 503h0M1164.5 501.6h0M1171.2 500.1h0M1177.9 498.7h0M1184.6 497.2h0M1191.2 495.8h0M1197.9 494.4h0M1204.6 493.1h0M1211.3 491.7h0M1218 490.4h0M1224.7 489h0M1231.4 487.7h0M1238.1 486.4h0M1244.7 485.1h0M1251.4 483.7h0M1258.1 482.4h0M1264.8 481.1h0M1271.5 479.7h0M1278.2 478.4h0M1284.9 477.1h0M1291.6 475.8h0M1298.3 474.4h0M1304.9 473.1h0M1311.6 471.8h0M1318.3 470.5h0M1325 469.2h0M1331.7 467.8h0M1338.4 466.5h0M1345.1 465.2h0M1351.8 463.9h0M1358.4 462.6h0M1365.1 461.3h0M1371.8 460h0M1378.5 458.7h0M1385.2 457.4h0M1391.9 456.1h0M1398.6 454.8h0M1405.3 453.5h0M1411.9 452.2h0M1418.6 450.9h0M1425.3 449.6h0M1432 448.3h0M1438.7 447.1h0M1445.4 445.8h0M1452.1 444.5h0M1458.8 443.2h0M1465.5 441.9h0M1472.1 440.7h0M1478.8 439.4h0M1485.5 438.1h0M1492.2 436.9h0M1498.9 435.6h0M1505.6 434.3h0M937.1 530.4h0M943.8 530.2h0M950.5 529.9h0M957.2 529.6h0M963.9 529.2h0M970.5 528.9h0M977.2 528.4h0M983.9 528h0M990.6 527.5h0M997.3 527h0M1004 526.4h0M1010.7 525.9h0M1017.4 525.3h0M1024 524.7h0M1030.7 524.1h0M1037.4 523.4h0M1044.1 522.8h0M1050.8 522.1h0M1057.5 521.4h0M1064.2 520.6h0M1070.9 519.7h0M1077.5 518.8h0M1084.2 517.8h0M1090.9 516.8h0M1097.6 515.8h0M1104.3 514.7h0M1111 513.6h0M1117.7 512.5h0M1124.4 511.4h0M1131.1 510.2h0M1137.7 508.9h0M1144.4 507.6h0M1151.1 506.3h0M1157.8 504.9h0M1164.5 503.6h0M1171.2 502.2h0M1177.9 500.8h0M1184.6 499.4h0M1191.2 498h0M1197.9 496.7h0M1204.6 495.4h0M1211.3 494.1h0M1218 492.8h0M1224.7 491.5h0M1231.4 490.2h0M1238.1 488.9h0M1244.7 487.6h0M1251.4 486.3h0M1258.1 485h0M1264.8 483.7h0M1271.5 482.4h0M1278.2 481.1h0M1284.9 479.8h0M1291.6 478.5h0M1298.3 477.2h0M1304.9 475.9h0M1311.6 474.6h0M1318.3 473.3h0M1325 472h0M1331.7 470.7h0M1338.4 469.4h0M1345.1 468.2h0M1351.8 466.9h0M1358.4 465.6h0M1365.1 464.3h0M1371.8 463h0M1378.5 461.7h0M1385.2 460.4h0M1391.9 459.2h0M1398.6 457.9h0M1405.3 456.6h0M1411.9 455.3h0M1418.6 454h0M1425.3 452.8h0M1432 451.5h0M1438.7 450.2h0M1445.4 448.9h0M1452.1 447.7h0M1458.8 446.4h0M1465.5 445.1h0M1472.1 443.8h0M1478.8 442.6h0M1485.5 441.3h0M1492.2 440h0M1498.9 438.8h0M1505.6 437.5h0M937.1 531.8h0M943.8 531.6h0M950.5 531.4h0M957.2 531.1h0M963.9 530.8h0M970.5 530.5h0M977.2 530.1h0M983.9 529.6h0M990.6 529.2h0M997.3 528.7h0M1004 528.2h0M1010.7 527.6h0M1017.4 527h0M1024 526.4h0M1030.7 525.8h0M1037.4 525.2h0M1044.1 524.6h0M1050.8 524h0M1057.5 523.2h0M1064.2 522.4h0M1070.9 521.6h0M1077.5 520.6h0M1084.2 519.6h0M1090.9 518.6h0M1097.6 517.5h0M1104.3 516.4h0M1111 515.3h0M1117.7 514.2h0M1124.4 513.1h0M1131.1 511.9h0M1137.7 510.7h0M1144.4 509.5h0M1151.1 508.2h0M1157.8 506.9h0M1164.5 505.6h0M1171.2 504.3h0M1177.9 502.9h0M1184.6 501.6h0M1191.2 500.3h0M1197.9 499h0M1204.6 497.7h0M1211.3 496.5h0M1218 495.2h0M1224.7 493.9h0M1231.4 492.7h0M1238.1 491.4h0M1244.7 490.1h0M1251.4 488.9h0M1258.1 487.6h0M1264.8 486.3h0M1271.5 485.1h0M1278.2 483.8h0M1284.9 482.5h0M1291.6 481.3h0M1298.3 480h0M1304.9 478.7h0M1311.6 477.5h0M1318.3 476.2h0M1325 474.9h0M1331.7 473.6h0M1338.4 472.4h0M1345.1 471.1h0M1351.8 469.8h0M1358.4 468.6h0M1365.1 467.3h0M1371.8 466h0M1378.5 464.8h0M1385.2 463.5h0M1391.9 462.2h0M1398.6 461h0M1405.3 459.7h0M1411.9 458.4h0M1418.6 457.2h0M1425.3 455.9h0M1432 454.6h0M1438.7 453.4h0M1445.4 452.1h0M1452.1 450.8h0M1458.8 449.6h0M1465.5 448.3h0M1472.1 447h0M1478.8 445.8h0M1485.5 444.5h0M1492.2 443.2h0M1498.9 442h0M1505.6 440.7h0M937.1 533.2h0M943.8 533.1h0M950.5 532.9h0M957.2 532.7h0M963.9 532.4h0M970.5 532.1h0M977.2 531.7h0M983.9 531.3h0M990.6 530.9h0M997.3 530.4h0M1004 529.9h0M1010.7 529.3h0M1017.4 528.8h0M1024 528.2h0M1030.7 527.6h0M1037.4 527h0M1044.1 526.4h0M1050.8 525.8h0M1057.5 525.1h0M1064.2 524.3h0M1070.9 523.4h0M1077.5 522.4h0M1084.2 521.4h0M1090.9 520.3h0M1097.6 519.2h0M1104.3 518.1h0M1111 517h0M1117.7 515.9h0M1124.4 514.8h0M1131.1 513.7h0M1137.7 512.5h0M1144.4 511.3h0M1151.1 510.1h0M1157.8 508.9h0M1164.5 507.6h0M1171.2 506.3h0M1177.9 505.1h0M1184.6 503.8h0M1191.2 502.5h0M1197.9 501.3h0M1204.6 500.1h0M1211.3 498.8h0M1218 497.6h0M1224.7 496.4h0M1231.4 495.1h0M1238.1 493.9h0M1244.7 492.7h0M1251.4 491.4h0M1258.1 490.2h0M1264.8 489h0M1271.5 487.7h0M1278.2 486.5h0M1284.9 485.2h0M1291.6 484h0M1298.3 482.8h0M1304.9 481.5h0M1311.6 480.3h0M1318.3 479h0M1325 477.8h0M1331.7 476.6h0M1338.4 475.3h0M1345.1 474.1h0M1351.8 472.8h0M1358.4 471.6h0M1365.1 470.3h0M1371.8 469.1h0M1378.5 467.8h0M1385.2 466.6h0M1391.9 465.3h0M1398.6 464.1h0M1405.3 462.8h0M1411.9 461.6h0M1418.6 460.3h0M1425.3 459.1h0M1432 457.8h0M1438.7 456.5h0M1445.4 455.3h0M1452.1 454h0M1458.8 452.8h0M1465.5 451.5h0M1472.1 450.2h0M1478.8 449h0M1485.5 447.7h0M1492.2 446.4h0M1498.9 445.2h0M1505.6 443.9h0M937.1 534.7h0M943.8 534.6h0M950.5 534.5h0M957.2 534.3h0M963.9 534h0M970.5 533.7h0M977.2 533.4h0M983.9 533h0M990.6 532.5h0M997.3 532.1h0M1004 531.6h0M1010.7 531.1h0M1017.4 530.5h0M1024 530h0M1030.7 529.4h0M1037.4 528.8h0M1044.1 528.2h0M1050.8 527.6h0M1057.5 526.9h0M1064.2 526.1h0M1070.9 525.2h0M1077.5 524.2h0M1084.2 523.2h0M1090.9 522.1h0M1097.6 521h0M1104.3 519.8h0M1111 518.7h0M1117.7 517.6h0M1124.4 516.6h0M1131.1 515.4h0M1137.7 514.3h0M1144.4 513.2h0M1151.1 512h0M1157.8 510.8h0M1164.5 509.6h0M1171.2 508.4h0M1177.9 507.2h0M1184.6 506h0M1191.2 504.8h0M1197.9 503.6h0M1204.6 502.4h0M1211.3 501.2h0M1218 500h0M1224.7 498.8h0M1231.4 497.6h0M1238.1 496.4h0M1244.7 495.2h0M1251.4 494h0M1258.1 492.8h0M1264.8 491.6h0M1271.5 490.4h0M1278.2 489.2h0M1284.9 488h0M1291.6 486.8h0M1298.3 485.6h0M1304.9 484.3h0M1311.6 483.1h0M1318.3 481.9h0M1325 480.7h0M1331.7 479.5h0M1338.4 478.2h0M1345.1 477h0M1351.8 475.8h0M1358.4 474.6h0M1365.1 473.3h0M1371.8 472.1h0M1378.5 470.9h0M1385.2 469.7h0M1391.9 468.4h0M1398.6 467.2h0M1405.3 465.9h0M1411.9 464.7h0M1418.6 463.5h0M1425.3 462.2h0M1432 461h0M1438.7 459.7h0M1445.4 458.5h0M1452.1 457.2h0M1458.8 455.9h0M1465.5 454.7h0M1472.1 453.4h0M1478.8 452.2h0M1485.5 450.9h0M1492.2 449.6h0M1498.9 448.4h0M1505.6 447.1h0" stroke="#EE675F" stroke-width="3.6" stroke-linecap="round" fill="none"/>
<path d="M937.1 508.8h0M943.8 496.7h0M950.5 484.4h0M957.2 471.8h0M963.9 459.9h0M970.5 447h0M977.2 434.9h0M983.9 423.3h0M990.6 411.6h0M997.3 400.6h0M1004 389.2h0M1010.7 378.7h0M1017.4 367.5h0M1024 357.6h0M1030.7 347.6h0M1037.4 337.8h0M1044.1 328.4h0M1050.8 320h0M1057.5 311.1h0M1064.2 302.1h0M1070.9 293.5h0M1077.5 285.5h0M1084.2 277.5h0M1090.9 269.9h0M1097.6 263h0M1104.3 256.3h0M1111 249.9h0M1117.7 243.4h0M1124.4 237h0M1131.1 230.7h0M1137.7 224.9h0M1144.4 219.3h0M1151.1 213.9h0M1157.8 208.4h0M1164.5 203.5h0M1171.2 198.6h0M1177.9 193.9h0M1184.6 189.8h0M1191.2 185.7h0M1197.9 181.1h0M1204.6 177.3h0M1211.3 173.9h0M1218 170.5h0M1224.7 166.3h0M1231.4 164.2h0M1238.1 161.1h0M1244.7 158.1h0M1251.4 155.9h0M1258.1 152.9h0M1264.8 149.8h0M1271.5 147.8h0M1278.2 145.7h0M1284.9 143.6h0M1291.6 141.7h0M1298.3 139.4h0M1304.9 137.9h0M1311.6 136.1h0M1318.3 134.1h0M1325 132h0M1331.7 130.5h0M1338.4 128.7h0M1345.1 128.1h0M1351.8 125.4h0M1358.4 123.5h0M1365.1 122.5h0M1371.8 121.9h0M1378.5 120.9h0M1385.2 119.4h0M1391.9 118.8h0M1398.6 117.2h0M1405.3 116.8h0M1411.9 115.3h0M1418.6 114.4h0M1425.3 114.8h0M1432 113.2h0M1438.7 112.8h0M1445.4 112.3h0M1452.1 111.4h0M1458.8 110.6h0M1465.5 109.5h0M1472.1 109.8h0M1478.8 108.2h0M1485.5 107.2h0M1492.2 107.1h0M1498.9 106.5h0M1505.6 106.1h0M937.1 510.8h0M943.8 497.7h0M950.5 485.6h0M957.2 473.7h0M963.9 461h0M970.5 449.7h0M977.2 438.1h0M983.9 426.3h0M990.6 416.2h0M997.3 405.1h0M1004 394h0M1010.7 383.3h0M1017.4 372.5h0M1024 363h0M1030.7 352.6h0M1037.4 343.4h0M1044.1 334.6h0M1050.8 326.3h0M1057.5 317.4h0M1064.2 309.1h0M1070.9 301.7h0M1077.5 293.4h0M1084.2 285.7h0M1090.9 278.6h0M1097.6 271.1h0M1104.3 264.5h0M1111 258.6h0M1117.7 252h0M1124.4 246.1h0M1131.1 239.7h0M1137.7 234.5h0M1144.4 228.2h0M1151.1 223.1h0M1157.8 217.7h0M1164.5 213.1h0M1171.2 208.8h0M1177.9 203h0M1184.6 199.3h0M1191.2 194.5h0M1197.9 190.8h0M1204.6 186.9h0M1211.3 182.8h0M1218 179.9h0M1224.7 176.2h0M1231.4 174h0M1238.1 170.1h0M1244.7 167.7h0M1251.4 164.9h0M1258.1 162.2h0M1264.8 159.6h0M1271.5 156.7h0M1278.2 155.7h0M1284.9 152.8h0M1291.6 151h0M1298.3 148.3h0M1304.9 146.9h0M1311.6 144.8h0M1318.3 143.2h0M1325 141.1h0M1331.7 139.2h0M1338.4 138h0M1345.1 136.2h0M1351.8 135.2h0M1358.4 133.1h0M1365.1 131.5h0M1371.8 130.8h0M1378.5 129h0M1385.2 129h0M1391.9 127.9h0M1398.6 126.7h0M1405.3 125.5h0M1411.9 124.4h0M1418.6 123.5h0M1425.3 122.7h0M1432 121.6h0M1438.7 121.3h0M1445.4 120.9h0M1452.1 120.2h0M1458.8 118.3h0M1465.5 119.2h0M1472.1 117.8h0M1478.8 116.6h0M1485.5 116.3h0M1492.2 116.2h0M1498.9 115.3h0M1505.6 114.4h0M937.1 510.7h0M943.8 499h0M950.5 486.6h0M957.2 475.3h0M963.9 463.1h0M970.5 451.3h0M977.2 440.5h0M983.9 429.7h0M990.6 418h0M997.3 406.8h0M1004 396.5h0M1010.7 386.1h0M1017.4 375.2h0M1024 366.8h0M1030.7 356.6h0M1037.4 348h0M1044.1 339h0M1050.8 330.4h0M1057.5 321.5h0M1064.2 314.3h0M1070.9 306.2h0M1077.5 298.9h0M1084.2 290.6h0M1090.9 283.6h0M1097.6 276.2h0M1104.3 269.9h0M1111 262.9h0M1117.7 255.9h0M1124.4 250h0M1131.1 243.5h0M1137.7 237.5h0M1144.4 232.1h0M1151.1 226.9h0M1157.8 220.6h0M1164.5 215.8h0M1171.2 210.5h0M1177.9 206.9h0M1184.6 202.3h0M1191.2 198.2h0M1197.9 193.7h0M1204.6 189.2h0M1211.3 185.7h0M1218 182.4h0M1224.7 179h0M1231.4 175.6h0M1238.1 173h0M1244.7 169.8h0M1251.4 167.2h0M1258.1 165.4h0M1264.8 162.3h0M1271.5 159.3h0M1278.2 157.7h0M1284.9 155.4h0M1291.6 153.5h0M1298.3 151.5h0M1304.9 149h0M1311.6 147.6h0M1318.3 146h0M1325 145h0M1331.7 142.3h0M1338.4 141.2h0M1345.1 139.5h0M1351.8 137h0M1358.4 135.5h0M1365.1 135.1h0M1371.8 132.8h0M1378.5 131.8h0M1385.2 131.1h0M1391.9 129.5h0M1398.6 129.3h0M1405.3 128.2h0M1411.9 127.4h0M1418.6 126.4h0M1425.3 124.8h0M1432 124.8h0M1438.7 124h0M1445.4 123.2h0M1452.1 122.1h0M1458.8 121.6h0M1465.5 120.5h0M1472.1 120.4h0M1478.8 120h0M1485.5 119.1h0M1492.2 118.3h0M1498.9 118h0M1505.6 117h0M937.1 511.2h0M943.8 499.8h0M950.5 487.9h0M957.2 476.3h0M963.9 465.4h0M970.5 454h0M977.2 442.8h0M983.9 431.3h0M990.6 420.5h0M997.3 410.2h0M1004 399.7h0M1010.7 388.9h0M1017.4 379.2h0M1024 370.4h0M1030.7 360.7h0M1037.4 351.7h0M1044.1 342.9h0M1050.8 334.8h0M1057.5 326.8h0M1064.2 318.8h0M1070.9 311.5h0M1077.5 303.2h0M1084.2 296h0M1090.9 288.3h0M1097.6 281.8h0M1104.3 274.7h0M1111 268.2h0M1117.7 261.7h0M1124.4 254.6h0M1131.1 248.8h0M1137.7 242.4h0M1144.4 237.1h0M1151.1 230.9h0M1157.8 226.1h0M1164.5 220.4h0M1171.2 215.4h0M1177.9 210.3h0M1184.6 205.9h0M1191.2 201.7h0M1197.9 197.2h0M1204.6 193.5h0M1211.3 189.6h0M1218 186h0M1224.7 182.9h0M1231.4 179.7h0M1238.1 176.4h0M1244.7 173.7h0M1251.4 170.6h0M1258.1 167.6h0M1264.8 165.1h0M1271.5 163.1h0M1278.2 161.1h0M1284.9 158.5h0M1291.6 156.4h0M1298.3 153.9h0M1304.9 152.5h0M1311.6 150.5h0M1318.3 148.3h0M1325 146.9h0M1331.7 145h0M1338.4 142.6h0M1345.1 141.1h0M1351.8 139.8h0M1358.4 138.4h0M1365.1 137.5h0M1371.8 135.6h0M1378.5 134.6h0M1385.2 133.4h0M1391.9 132.5h0M1398.6 131.3h0M1405.3 130.4h0M1411.9 129.3h0M1418.6 128h0M1425.3 127.5h0M1432 127.4h0M1438.7 126.4h0M1445.4 125.9h0M1452.1 124.9h0M1458.8 123.7h0M1465.5 123.1h0M1472.1 122.8h0M1478.8 121.8h0M1485.5 121.6h0M1492.2 121.2h0M1498.9 120.6h0M1505.6 119.8h0M937.1 512.3h0M943.8 501.1h0M950.5 488.9h0M957.2 478.2h0M963.9 467.4h0M970.5 456.1h0M977.2 445.4h0M983.9 434.4h0M990.6 423.7h0M997.3 413.7h0M1004 403.1h0M1010.7 393h0M1017.4 383.7h0M1024 374.4h0M1030.7 365.5h0M1037.4 356.7h0M1044.1 348.8h0M1050.8 340.1h0M1057.5 332.3h0M1064.2 325h0M1070.9 316.3h0M1077.5 309.8h0M1084.2 302.4h0M1090.9 294.7h0M1097.6 288.4h0M1104.3 281.1h0M1111 274.5h0M1117.7 267.5h0M1124.4 260.6h0M1131.1 254h0M1137.7 247.4h0M1144.4 241.4h0M1151.1 235.4h0M1157.8 229.9h0M1164.5 224.9h0M1171.2 219.2h0M1177.9 215h0M1184.6 210.5h0M1191.2 205.3h0M1197.9 201.4h0M1204.6 197.6h0M1211.3 193.6h0M1218 190h0M1224.7 187.3h0M1231.4 183.6h0M1238.1 180.8h0M1244.7 177.3h0M1251.4 174.8h0M1258.1 171.3h0M1264.8 169h0M1271.5 167h0M1278.2 164.4h0M1284.9 162.5h0M1291.6 159.9h0M1298.3 157.7h0M1304.9 155.8h0M1311.6 154.7h0M1318.3 152.2h0M1325 150h0M1331.7 148.3h0M1338.4 146.2h0M1345.1 145.4h0M1351.8 143.1h0M1358.4 142h0M1365.1 140.2h0M1371.8 138.8h0M1378.5 137.4h0M1385.2 136.7h0M1391.9 135.3h0M1398.6 134.7h0M1405.3 133.7h0M1411.9 132h0M1418.6 131.3h0M1425.3 130.9h0M1432 129.8h0M1438.7 128.7h0M1445.4 127.3h0M1452.1 126.8h0M1458.8 126.1h0M1465.5 126.3h0M1472.1 125.1h0M1478.8 124.2h0M1485.5 123.6h0M1492.2 123h0M1498.9 122.6h0M1505.6 121.3h0M937.1 513.6h0M943.8 502.2h0M950.5 491.6h0M957.2 480.4h0M963.9 470.4h0M970.5 458.9h0M977.2 448.1h0M983.9 438.7h0M990.6 428.2h0M997.3 418.5h0M1004 408.3h0M1010.7 398.8h0M1017.4 388.9h0M1024 380.4h0M1030.7 372h0M1037.4 363.2h0M1044.1 355.7h0M1050.8 347.9h0M1057.5 339.4h0M1064.2 333h0M1070.9 325.4h0M1077.5 317.7h0M1084.2 310.6h0M1090.9 303.5h0M1097.6 295h0M1104.3 288.4h0M1111 281h0M1117.7 273.7h0M1124.4 266.8h0M1131.1 259.8h0M1137.7 252.5h0M1144.4 245.1h0M1151.1 239.3h0M1157.8 233.2h0M1164.5 228.2h0M1171.2 222.3h0M1177.9 217.9h0M1184.6 212.6h0M1191.2 208.6h0M1197.9 204.4h0M1204.6 200.4h0M1211.3 196.8h0M1218 193.6h0M1224.7 189.4h0M1231.4 186.9h0M1238.1 183.7h0M1244.7 180.5h0M1251.4 177.9h0M1258.1 174.9h0M1264.8 172.1h0M1271.5 170h0M1278.2 167.7h0M1284.9 165.6h0M1291.6 163.2h0M1298.3 162.2h0M1304.9 159.5h0M1311.6 158.1h0M1318.3 156.4h0M1325 154.2h0M1331.7 152.6h0M1338.4 150.6h0M1345.1 148.8h0M1351.8 148.5h0M1358.4 146.3h0M1365.1 144.2h0M1371.8 143.3h0M1378.5 141.9h0M1385.2 141.3h0M1391.9 140.8h0M1398.6 139.6h0M1405.3 138h0M1411.9 137h0M1418.6 136.8h0M1425.3 135.8h0M1432 134.8h0M1438.7 134.8h0M1445.4 133.5h0M1452.1 132.1h0M1458.8 131.3h0M1465.5 131.4h0M1472.1 130.1h0M1478.8 130.3h0M1485.5 129.9h0M1492.2 129.8h0M1498.9 128h0M1505.6 127.9h0M937.1 513.4h0M943.8 502.2h0M950.5 491.4h0M957.2 482.1h0M963.9 469.9h0M970.5 459.8h0M977.2 449.2h0M983.9 439.7h0M990.6 428.5h0M997.3 418.6h0M1004 409.3h0M1010.7 399.5h0M1017.4 390.1h0M1024 381h0M1030.7 372.7h0M1037.4 363.8h0M1044.1 356.5h0M1050.8 348.8h0M1057.5 341.3h0M1064.2 334.6h0M1070.9 326.6h0M1077.5 318.7h0M1084.2 311.7h0M1090.9 304.9h0M1097.6 297.4h0M1104.3 291.4h0M1111 283.9h0M1117.7 276.8h0M1124.4 270h0M1131.1 264h0M1137.7 257h0M1144.4 250.5h0M1151.1 245.4h0M1157.8 239.2h0M1164.5 234.7h0M1171.2 229.8h0M1177.9 224.2h0M1184.6 220h0M1191.2 215.8h0M1197.9 212.1h0M1204.6 208.2h0M1211.3 204.1h0M1218 200.4h0M1224.7 197.8h0M1231.4 195.2h0M1238.1 191.2h0M1244.7 188.7h0M1251.4 186h0M1258.1 183.6h0M1264.8 180.5h0M1271.5 179h0M1278.2 176.7h0M1284.9 175.5h0M1291.6 173.1h0M1298.3 171.2h0M1304.9 169.2h0M1311.6 167.3h0M1318.3 166h0M1325 163.5h0M1331.7 162.9h0M1338.4 161.1h0M1345.1 159.3h0M1351.8 158.5h0M1358.4 156.4h0M1365.1 155.1h0M1371.8 154.3h0M1378.5 152.4h0M1385.2 152h0M1391.9 151h0M1398.6 150.5h0M1405.3 149.9h0M1411.9 148.6h0M1418.6 147.7h0M1425.3 147h0M1432 145.9h0M1438.7 146.3h0M1445.4 145.2h0M1452.1 144.8h0M1458.8 143h0M1465.5 143.1h0M1472.1 142.5h0M1478.8 142.1h0M1485.5 140.8h0M1492.2 140.8h0M1498.9 140h0M1505.6 140.2h0M937.1 514h0M943.8 502.3h0M950.5 491.5h0M957.2 481.3h0M963.9 470.9h0M970.5 460.1h0M977.2 449.3h0M983.9 439.2h0M990.6 429.4h0M997.3 419.5h0M1004 409.9h0M1010.7 399.9h0M1017.4 390.6h0M1024 382.1h0M1030.7 372.8h0M1037.4 365.8h0M1044.1 357.3h0M1050.8 348.9h0M1057.5 342.2h0M1064.2 335.3h0M1070.9 327h0M1077.5 320.1h0M1084.2 313.7h0M1090.9 306.1h0M1097.6 300.1h0M1104.3 293.6h0M1111 286.7h0M1117.7 280.5h0M1124.4 274.5h0M1131.1 268.2h0M1137.7 262.6h0M1144.4 256.5h0M1151.1 251h0M1157.8 245.5h0M1164.5 241h0M1171.2 236.6h0M1177.9 232.2h0M1184.6 227.8h0M1191.2 223.2h0M1197.9 219.8h0M1204.6 216.9h0M1211.3 213h0M1218 210.6h0M1224.7 206.9h0M1231.4 204.6h0M1238.1 201.5h0M1244.7 199.1h0M1251.4 197h0M1258.1 194.6h0M1264.8 192.9h0M1271.5 190.5h0M1278.2 188.1h0M1284.9 185.1h0M1291.6 184.5h0M1298.3 182.9h0M1304.9 181.5h0M1311.6 179h0M1318.3 178.3h0M1325 176.3h0M1331.7 174.3h0M1338.4 173.2h0M1345.1 170.7h0M1351.8 169.3h0M1358.4 168.5h0M1365.1 167.1h0M1371.8 166.1h0M1378.5 164.9h0M1385.2 163.1h0M1391.9 161.9h0M1398.6 161h0M1405.3 159.9h0M1411.9 159.2h0M1418.6 157.9h0M1425.3 157.6h0M1432 156.1h0M1438.7 154.6h0M1445.4 153.7h0M1452.1 153.4h0M1458.8 152.5h0M1465.5 150.9h0M1472.1 149.8h0M1478.8 150.1h0M1485.5 148.8h0M1492.2 147.6h0M1498.9 146.3h0M1505.6 146h0M937.1 514.3h0M943.8 502.7h0M950.5 491.1h0M957.2 481.9h0M963.9 471.2h0M970.5 460.6h0M977.2 449.6h0M983.9 439.6h0M990.6 430.2h0M997.3 419.9h0M1004 410.8h0M1010.7 401h0M1017.4 392.1h0M1024 383.3h0M1030.7 374.5h0M1037.4 366.4h0M1044.1 357.9h0M1050.8 350.1h0M1057.5 343h0M1064.2 336.1h0M1070.9 328.3h0M1077.5 322.3h0M1084.2 315.5h0M1090.9 307.9h0M1097.6 301.5h0M1104.3 295.2h0M1111 289.5h0M1117.7 283.9h0M1124.4 277.8h0M1131.1 271.8h0M1137.7 266.8h0M1144.4 261.4h0M1151.1 256.5h0M1157.8 251.4h0M1164.5 246h0M1171.2 241.6h0M1177.9 237.8h0M1184.6 233.7h0M1191.2 229.6h0M1197.9 225.4h0M1204.6 222.3h0M1211.3 218.5h0M1218 215.9h0M1224.7 212.4h0M1231.4 208.7h0M1238.1 205.7h0M1244.7 203.6h0M1251.4 200.9h0M1258.1 197.8h0M1264.8 195.9h0M1271.5 193.7h0M1278.2 191.2h0M1284.9 189.3h0M1291.6 187.1h0M1298.3 185.5h0M1304.9 184.3h0M1311.6 182.6h0M1318.3 181.1h0M1325 180.1h0M1331.7 178.6h0M1338.4 176.5h0M1345.1 176.2h0M1351.8 174h0M1358.4 173.1h0M1365.1 172.1h0M1371.8 170.9h0M1378.5 170h0M1385.2 168.9h0M1391.9 168.7h0M1398.6 167.8h0M1405.3 167.1h0M1411.9 165.7h0M1418.6 165.4h0M1425.3 165.4h0M1432 164.6h0M1438.7 164.2h0M1445.4 163.4h0M1452.1 162.8h0M1458.8 161.5h0M1465.5 162.5h0M1472.1 161h0M1478.8 160.7h0M1485.5 160.7h0M1492.2 160h0M1498.9 159.6h0M1505.6 158.9h0M937.1 514.4h0M943.8 503.4h0M950.5 491.7h0M957.2 482.4h0M963.9 470.9h0M970.5 460.7h0M977.2 450h0M983.9 440.1h0M990.6 429.9h0M997.3 420.5h0M1004 411.2h0M1010.7 401.2h0M1017.4 392h0M1024 382.7h0M1030.7 375.7h0M1037.4 366.9h0M1044.1 358.5h0M1050.8 351.7h0M1057.5 343.9h0M1064.2 335.9h0M1070.9 329.1h0M1077.5 323h0M1084.2 315.5h0M1090.9 309.1h0M1097.6 303.1h0M1104.3 297.2h0M1111 291.3h0M1117.7 286h0M1124.4 280.3h0M1131.1 274.4h0M1137.7 269.4h0M1144.4 263.7h0M1151.1 259.6h0M1157.8 255.6h0M1164.5 250.4h0M1171.2 245.8h0M1177.9 241.7h0M1184.6 237.9h0M1191.2 234.5h0M1197.9 230.1h0M1204.6 227.5h0M1211.3 223.8h0M1218 221h0M1224.7 218.4h0M1231.4 214.7h0M1238.1 213.4h0M1244.7 210.3h0M1251.4 207.4h0M1258.1 205.4h0M1264.8 202.8h0M1271.5 201.1h0M1278.2 199.3h0M1284.9 196.5h0M1291.6 195.6h0M1298.3 193.9h0M1304.9 192.7h0M1311.6 191.1h0M1318.3 189.1h0M1325 187.8h0M1331.7 186.6h0M1338.4 185.5h0M1345.1 183.7h0M1351.8 183.4h0M1358.4 181.7h0M1365.1 180.6h0M1371.8 179.8h0M1378.5 178.5h0M1385.2 178h0M1391.9 177.2h0M1398.6 175.5h0M1405.3 175.2h0M1411.9 174.3h0M1418.6 174h0M1425.3 173.1h0M1432 172.5h0M1438.7 171.8h0M1445.4 170.8h0M1452.1 171.2h0M1458.8 170.5h0M1465.5 170.1h0M1472.1 170.9h0M1478.8 169.6h0M1485.5 168.6h0M1492.2 167.9h0M1498.9 167.9h0M1505.6 166.8h0M937.1 514.4h0M943.8 503.1h0M950.5 491.9h0M957.2 481.9h0M963.9 471.6h0M970.5 461.6h0M977.2 450.3h0M983.9 440.8h0M990.6 431h0M997.3 421.1h0M1004 411.7h0M1010.7 401.6h0M1017.4 392.7h0M1024 383.8h0M1030.7 375.6h0M1037.4 367.9h0M1044.1 359.8h0M1050.8 351.8h0M1057.5 344.9h0M1064.2 336.5h0M1070.9 330.6h0M1077.5 323.9h0M1084.2 316.5h0M1090.9 310.2h0M1097.6 304.2h0M1104.3 298.2h0M1111 292h0M1117.7 286.2h0M1124.4 280.6h0M1131.1 275.6h0M1137.7 270.2h0M1144.4 265.1h0M1151.1 260.4h0M1157.8 257.3h0M1164.5 252.3h0M1171.2 248.3h0M1177.9 244.6h0M1184.6 241.1h0M1191.2 237.6h0M1197.9 234.8h0M1204.6 232.3h0M1211.3 229.6h0M1218 226.6h0M1224.7 225.2h0M1231.4 222.7h0M1238.1 220.3h0M1244.7 218.9h0M1251.4 218.1h0M1258.1 215.6h0M1264.8 214.4h0M1271.5 212.9h0M1278.2 211.2h0M1284.9 210.2h0M1291.6 209.3h0M1298.3 207.8h0M1304.9 206.9h0M1311.6 206h0M1318.3 205h0M1325 204.1h0M1331.7 203.4h0M1338.4 202.6h0M1345.1 201.6h0M1351.8 201.2h0M1358.4 200.7h0M1365.1 199.1h0M1371.8 199.1h0M1378.5 198.6h0M1385.2 198.2h0M1391.9 197.7h0M1398.6 197.4h0M1405.3 197h0M1411.9 197h0M1418.6 196.1h0M1425.3 196.4h0M1432 195.4h0M1438.7 196.2h0M1445.4 195.6h0M1452.1 194.6h0M1458.8 194.7h0M1465.5 194.6h0M1472.1 193.9h0M1478.8 194h0M1485.5 193.2h0M1492.2 193.6h0M1498.9 192.6h0M1505.6 192.1h0M937.1 514.8h0M943.8 502.8h0M950.5 492.9h0M957.2 482.3h0M963.9 472.3h0M970.5 462.3h0M977.2 452.1h0M983.9 440.6h0M990.6 431.4h0M997.3 421.9h0M1004 412.3h0M1010.7 403.1h0M1017.4 393.1h0M1024 384.9h0M1030.7 375.9h0M1037.4 368.5h0M1044.1 361.4h0M1050.8 352.7h0M1057.5 345.8h0M1064.2 338.6h0M1070.9 331h0M1077.5 325h0M1084.2 318h0M1090.9 312.1h0M1097.6 306.4h0M1104.3 300.1h0M1111 294.9h0M1117.7 288.9h0M1124.4 283.8h0M1131.1 279.1h0M1137.7 274h0M1144.4 269.5h0M1151.1 265.4h0M1157.8 260.8h0M1164.5 257.2h0M1171.2 253.2h0M1177.9 250.3h0M1184.6 246.7h0M1191.2 243.6h0M1197.9 241.2h0M1204.6 238.4h0M1211.3 236h0M1218 233.3h0M1224.7 231.7h0M1231.4 229.3h0M1238.1 227h0M1244.7 225.8h0M1251.4 224.9h0M1258.1 222.8h0M1264.8 221.1h0M1271.5 220.3h0M1278.2 218.6h0M1284.9 217.7h0M1291.6 216.8h0M1298.3 216h0M1304.9 215.2h0M1311.6 214.2h0M1318.3 213.2h0M1325 212.2h0M1331.7 211.5h0M1338.4 211h0M1345.1 210.1h0M1351.8 209.4h0M1358.4 209.5h0M1365.1 208.6h0M1371.8 208.2h0M1378.5 207.5h0M1385.2 207.2h0M1391.9 206.8h0M1398.6 206.8h0M1405.3 205.9h0M1411.9 205.8h0M1418.6 206.2h0M1425.3 205.3h0M1432 205.5h0M1438.7 204.2h0M1445.4 204.7h0M1452.1 204.4h0M1458.8 203.9h0M1465.5 203.7h0M1472.1 203.3h0M1478.8 202.4h0M1485.5 202.5h0M1492.2 201.8h0M1498.9 201.2h0M1505.6 201.5h0M937.1 514.5h0M943.8 503h0M950.5 492.5h0M957.2 483.5h0M963.9 472.2h0M970.5 461.8h0M977.2 451.9h0M983.9 440.8h0M990.6 431.6h0M997.3 422.3h0M1004 412.6h0M1010.7 403h0M1017.4 393.9h0M1024 385.4h0M1030.7 376.8h0M1037.4 368.7h0M1044.1 361.8h0M1050.8 354h0M1057.5 346.9h0M1064.2 339.5h0M1070.9 332.2h0M1077.5 325.9h0M1084.2 320.2h0M1090.9 313.8h0M1097.6 307.6h0M1104.3 302.7h0M1111 297.2h0M1117.7 292h0M1124.4 287.9h0M1131.1 282.3h0M1137.7 277.9h0M1144.4 273.6h0M1151.1 270h0M1157.8 266h0M1164.5 262.2h0M1171.2 258.3h0M1177.9 255h0M1184.6 251.7h0M1191.2 248.1h0M1197.9 245.4h0M1204.6 243.5h0M1211.3 240.9h0M1218 237.7h0M1224.7 236.2h0M1231.4 233.5h0M1238.1 231.5h0M1244.7 230.4h0M1251.4 228.6h0M1258.1 226.9h0M1264.8 225.7h0M1271.5 224.4h0M1278.2 222.9h0M1284.9 221.3h0M1291.6 220.6h0M1298.3 219.5h0M1304.9 218.6h0M1311.6 218h0M1318.3 216.1h0M1325 216.7h0M1331.7 215.3h0M1338.4 214.1h0M1345.1 214.1h0M1351.8 212.7h0M1358.4 211.9h0M1365.1 212.1h0M1371.8 211.3h0M1378.5 211.3h0M1385.2 210.4h0M1391.9 210.3h0M1398.6 209.9h0M1405.3 209.3h0M1411.9 209.4h0M1418.6 208.8h0M1425.3 208.9h0M1432 209.3h0M1438.7 208.6h0M1445.4 208.3h0M1452.1 208.8h0M1458.8 207.6h0M1465.5 207.8h0M1472.1 207.5h0M1478.8 207.7h0M1485.5 207h0M1492.2 206.6h0M1498.9 206.5h0M1505.6 206h0M937.1 516.1h0M943.8 503h0M950.5 493.4h0M957.2 484.2h0M963.9 473.1h0M970.5 462.6h0M977.2 451.9h0M983.9 442.4h0M990.6 432.2h0M997.3 423.1h0M1004 412.4h0M1010.7 403.7h0M1017.4 394.2h0M1024 386.7h0M1030.7 377.8h0M1037.4 370.3h0M1044.1 362h0M1050.8 354.5h0M1057.5 348h0M1064.2 340.9h0M1070.9 334.2h0M1077.5 327.9h0M1084.2 321.5h0M1090.9 315.7h0M1097.6 310.4h0M1104.3 304.7h0M1111 299.6h0M1117.7 295.5h0M1124.4 290.7h0M1131.1 286.2h0M1137.7 282.2h0M1144.4 278.5h0M1151.1 274.2h0M1157.8 270.6h0M1164.5 267.2h0M1171.2 264.3h0M1177.9 260.3h0M1184.6 257.3h0M1191.2 255.2h0M1197.9 252.2h0M1204.6 249h0M1211.3 247.1h0M1218 244.2h0M1224.7 241.9h0M1231.4 239.9h0M1238.1 237.5h0M1244.7 235.9h0M1251.4 233.6h0M1258.1 232.2h0M1264.8 228.9h0M1271.5 227.6h0M1278.2 226.1h0M1284.9 225.1h0M1291.6 223.6h0M1298.3 222.4h0M1304.9 221.5h0M1311.6 220.7h0M1318.3 220.6h0M1325 219.3h0M1331.7 218.9h0M1338.4 218.5h0M1345.1 217.8h0M1351.8 216.7h0M1358.4 215.9h0M1365.1 216.3h0M1371.8 214.8h0M1378.5 214.6h0M1385.2 215h0M1391.9 214.7h0M1398.6 214.4h0M1405.3 213.8h0M1411.9 214.1h0M1418.6 214.2h0M1425.3 213.5h0M1432 214.2h0M1438.7 213.3h0M1445.4 212.7h0M1452.1 212.9h0M1458.8 212.5h0M1465.5 212.4h0M1472.1 212.2h0M1478.8 212.1h0M1485.5 212.2h0M1492.2 211.7h0M1498.9 211.3h0M1505.6 210.5h0M937.1 515h0M943.8 503.6h0M950.5 493.7h0M957.2 484.2h0M963.9 473.4h0M970.5 462.5h0M977.2 452.7h0M983.9 442.9h0M990.6 433.5h0M997.3 423.4h0M1004 414.2h0M1010.7 405.1h0M1017.4 396.1h0M1024 387h0M1030.7 379.4h0M1037.4 370.8h0M1044.1 363.2h0M1050.8 356.2h0M1057.5 348.8h0M1064.2 342.2h0M1070.9 335.9h0M1077.5 329.4h0M1084.2 323.6h0M1090.9 317.5h0M1097.6 312.4h0M1104.3 307.2h0M1111 302.4h0M1117.7 299.4h0M1124.4 293.9h0M1131.1 290.7h0M1137.7 286.2h0M1144.4 283h0M1151.1 279.3h0M1157.8 275.6h0M1164.5 273.6h0M1171.2 270h0M1177.9 267.2h0M1184.6 265.2h0M1191.2 261.9h0M1197.9 259.8h0M1204.6 257.9h0M1211.3 256h0M1218 252.8h0M1224.7 252.5h0M1231.4 251.5h0M1238.1 249.9h0M1244.7 248.4h0M1251.4 247.3h0M1258.1 246.2h0M1264.8 245.6h0M1271.5 244.2h0M1278.2 243.8h0M1284.9 243.4h0M1291.6 242.5h0M1298.3 241.7h0M1304.9 240.7h0M1311.6 240.3h0M1318.3 240h0M1325 239.4h0M1331.7 238.9h0M1338.4 237.8h0M1345.1 238.4h0M1351.8 237.6h0M1358.4 237.2h0M1365.1 237.6h0M1371.8 237h0M1378.5 236.8h0M1385.2 236.9h0M1391.9 236.5h0M1398.6 236.2h0M1405.3 236.1h0M1411.9 236.5h0M1418.6 236.3h0M1425.3 235.4h0M1432 236.5h0M1438.7 235.9h0M1445.4 235.6h0M1452.1 235.6h0M1458.8 235.2h0M1465.5 235.2h0M1472.1 234.7h0M1478.8 234.1h0M1485.5 234.3h0M1492.2 233.6h0M1498.9 233.2h0M1505.6 232.7h0M937.1 516.7h0M943.8 505.5h0M950.5 494.9h0M957.2 485.6h0M963.9 475.3h0M970.5 465.5h0M977.2 456.5h0M983.9 446h0M990.6 437.4h0M997.3 428h0M1004 418.2h0M1010.7 410.4h0M1017.4 401.1h0M1024 393.1h0M1030.7 385.3h0M1037.4 377.9h0M1044.1 370h0M1050.8 363.2h0M1057.5 355.8h0M1064.2 349.1h0M1070.9 343.6h0M1077.5 337.1h0M1084.2 331.2h0M1090.9 325.9h0M1097.6 320.5h0M1104.3 315.1h0M1111 310.3h0M1117.7 306.2h0M1124.4 301.4h0M1131.1 296.8h0M1137.7 293.4h0M1144.4 289.5h0M1151.1 285h0M1157.8 281.6h0M1164.5 279.4h0M1171.2 276.2h0M1177.9 272.7h0M1184.6 270.5h0M1191.2 267.6h0M1197.9 265.4h0M1204.6 262.8h0M1211.3 261.9h0M1218 259.9h0M1224.7 257.8h0M1231.4 255.4h0M1238.1 254.4h0M1244.7 253.6h0M1251.4 251.6h0M1258.1 250.4h0M1264.8 249.7h0M1271.5 248.9h0M1278.2 247.7h0M1284.9 246.7h0M1291.6 246.4h0M1298.3 245.7h0M1304.9 245.3h0M1311.6 244.9h0M1318.3 244.6h0M1325 243.8h0M1331.7 243.6h0M1338.4 243.2h0M1345.1 242.4h0M1351.8 242.3h0M1358.4 241.9h0M1365.1 242.6h0M1371.8 241.7h0M1378.5 242h0M1385.2 242.1h0M1391.9 242.1h0M1398.6 241.3h0M1405.3 241.5h0M1411.9 242.1h0M1418.6 242.3h0M1425.3 241.9h0M1432 242.1h0M1438.7 241.4h0M1445.4 242.5h0M1452.1 242.6h0M1458.8 242h0M1465.5 241.9h0M1472.1 241.7h0M1478.8 241.4h0M1485.5 240.7h0M1492.2 241.4h0M1498.9 241.2h0M1505.6 241.3h0" stroke="#0EA33D" stroke-width="3.7" stroke-linecap="round" fill="none"/>
<path d="M937.1 539.3h0M943.8 538.3h0M950.5 537.2h0M957.2 536.2h0M963.9 535.1h0M970.5 534h0M977.2 532.8h0M983.9 531.7h0M990.6 530.5h0M997.3 529.3h0M1004 528.1h0M1010.7 526.8h0M1017.4 525.6h0M1024 524.3h0M1030.7 523h0M1037.4 521.7h0M1044.1 520.4h0M1050.8 519h0M1057.5 517.7h0M1064.2 516.3h0M1070.9 514.8h0M1077.5 513.3h0M1084.2 511.8h0M1090.9 510.2h0M1097.6 508.7h0M1104.3 507.1h0M1111 505.5h0M1117.7 503.9h0M1124.4 502.3h0M1131.1 500.7h0M1137.7 499.1h0M1144.4 497.4h0M1151.1 495.8h0M1157.8 494.1h0M1164.5 492.4h0M1171.2 490.7h0M1177.9 489h0M1184.6 487.4h0M1191.2 485.7h0M1197.9 484h0M1204.6 482.4h0M1211.3 480.8h0M1218 479.2h0M1224.7 477.6h0M1231.4 476h0M1238.1 474.4h0M1244.7 472.8h0M1251.4 471.2h0M1258.1 469.6h0M1264.8 468h0M1271.5 466.4h0M1278.2 464.8h0M1284.9 463.2h0M1291.6 461.6h0M1298.3 460h0M1304.9 458.4h0M1311.6 456.8h0M1318.3 455.3h0M1325 453.7h0M1331.7 452.1h0M1338.4 450.5h0M1345.1 449h0M1351.8 447.4h0M1358.4 445.8h0M1365.1 444.3h0M1371.8 442.7h0M1378.5 441.2h0M1385.2 439.6h0M1391.9 438.1h0M1398.6 436.5h0M1405.3 435h0M1411.9 433.4h0M1418.6 431.9h0M1425.3 430.4h0M1432 428.8h0M1438.7 427.3h0M1445.4 425.8h0M1452.1 424.3h0M1458.8 422.8h0M1465.5 421.2h0M1472.1 419.7h0M1478.8 418.2h0M1485.5 416.7h0M1492.2 415.2h0M1498.9 413.8h0M1505.6 412.3h0" stroke="#5A84CE" stroke-width="3.6" stroke-linecap="round" fill="none"/>
<text class="t" x="81.3" y="32.8" font-size="34" textLength="47.20" lengthAdjust="spacingAndGlyphs">(A)</text>
<text class="t" x="78.5" y="67.3" font-size="19" textLength="234.02" lengthAdjust="spacingAndGlyphs">Abexinostat (PCI-24781)</text>
<text class="t" x="907.2" y="36.05" font-size="33.4" textLength="46.36" lengthAdjust="spacingAndGlyphs">(B)</text>
<text class="t" x="911.8" y="77.1" font-size="19" textLength="92.64" lengthAdjust="spacingAndGlyphs">Tyloxapol</text>
<text class="ci" x="71.9" y="190.3" font-size="22" text-anchor="end" textLength="29.58" lengthAdjust="spacingAndGlyphs">1.5</text>
<text class="ci" x="70.1" y="311.45" font-size="22" text-anchor="end" textLength="28.19" lengthAdjust="spacingAndGlyphs">1.0</text>
<text class="ci" x="73.25" y="435.2" font-size="22" text-anchor="end" textLength="28.69" lengthAdjust="spacingAndGlyphs">0.5</text>
<text class="ci" x="73.35" y="551.55" font-size="22" text-anchor="end" textLength="29.58" lengthAdjust="spacingAndGlyphs">0.0</text>
<text class="ci" x="902.2" y="204.0" font-size="22" text-anchor="end" textLength="30.19" lengthAdjust="spacingAndGlyphs">1.5</text>
<text class="ci" x="903.2" y="324.8" font-size="22" text-anchor="end" textLength="29.19" lengthAdjust="spacingAndGlyphs">1.0</text>
<text class="ci" x="903.0" y="443.95" font-size="22" text-anchor="end" textLength="28.19" lengthAdjust="spacingAndGlyphs">0.5</text>
<text class="ci" x="902.45" y="559.8" font-size="22" text-anchor="end" textLength="29.08" lengthAdjust="spacingAndGlyphs">0.0</text>
<text class="c" transform="translate(108.35 569.3) rotate(-45)" y="6.95" font-size="22" text-anchor="middle" textLength="11.16" lengthAdjust="spacingAndGlyphs">0</text>
<text class="c" transform="translate(265.0 573.3) rotate(-45)" y="6.95" font-size="22" text-anchor="middle" textLength="44.61" lengthAdjust="spacingAndGlyphs">2000</text>
<text class="c" transform="translate(425.95 571.95) rotate(-45)" y="6.95" font-size="22" text-anchor="middle" textLength="44.61" lengthAdjust="spacingAndGlyphs">4000</text>
<text class="c" transform="translate(584.5 574.05) rotate(-45)" y="6.95" font-size="22" text-anchor="middle" textLength="44.61" lengthAdjust="spacingAndGlyphs">6000</text>
<text class="c" transform="translate(939.5 574.75) rotate(-45)" y="6.95" font-size="22" text-anchor="middle" textLength="11.16" lengthAdjust="spacingAndGlyphs">0</text>
<text class="c" transform="translate(1098.1 580.6) rotate(-45)" y="6.95" font-size="22" text-anchor="middle" textLength="44.61" lengthAdjust="spacingAndGlyphs">2000</text>
<text class="c" transform="translate(1255.85 580.15) rotate(-45)" y="6.95" font-size="22" text-anchor="middle" textLength="44.61" lengthAdjust="spacingAndGlyphs">4000</text>
<text class="c" transform="translate(1414.65 580.1) rotate(-45)" y="6.95" font-size="22" text-anchor="middle" textLength="44.61" lengthAdjust="spacingAndGlyphs">6000</text>
<text class="c" x="282.05" y="623.1" font-size="25.5" textLength="109.61" lengthAdjust="spacingAndGlyphs">Time (sec)</text>
<text class="c" x="1118.05" y="619.7" font-size="25.5" textLength="109.61" lengthAdjust="spacingAndGlyphs">Time (sec)</text>
<text class="c" transform="translate(32.65 361.55) rotate(-90)" font-size="25.6" textLength="101.45" lengthAdjust="spacingAndGlyphs">Response</text>
<text class="c" transform="translate(872.05 377.55) rotate(-90)" font-size="25.6" textLength="101.45" lengthAdjust="spacingAndGlyphs">Response</text>
<text class="ci" x="690.6" y="233.9" font-size="21" textLength="113.90" lengthAdjust="spacingAndGlyphs">Sample type</text>
<text class="ci" x="718" y="266" font-size="18" textLength="80.56" lengthAdjust="spacingAndGlyphs">rFVII-160R</text>
<text class="ci" x="718" y="301.3" font-size="18" textLength="62.15" lengthAdjust="spacingAndGlyphs">rFVII-wt</text>
<text class="ci" x="717.35" y="326.1" font-size="18" textLength="80.56" lengthAdjust="spacingAndGlyphs">rFVII-160R</text>
<text class="ci" x="718.6" y="344.6" font-size="18" textLength="48.88" lengthAdjust="spacingAndGlyphs">+ drug</text>
<text class="ci" x="1535.4" y="234.4" font-size="21" textLength="113.90" lengthAdjust="spacingAndGlyphs">Sample type</text>
<text class="ci" x="1565.6" y="266" font-size="18" textLength="80.56" lengthAdjust="spacingAndGlyphs">rFVII-160R</text>
<text class="ci" x="1565.6" y="301.3" font-size="18" textLength="62.15" lengthAdjust="spacingAndGlyphs">rFVII-wt</text>
<text class="ci" x="1564.95" y="326.1" font-size="18" textLength="80.56" lengthAdjust="spacingAndGlyphs">rFVII-160R</text>
<text class="ci" x="1566.2" y="344.6" font-size="18" textLength="48.88" lengthAdjust="spacingAndGlyphs">+ drug</text>
</svg>
</body></html>
